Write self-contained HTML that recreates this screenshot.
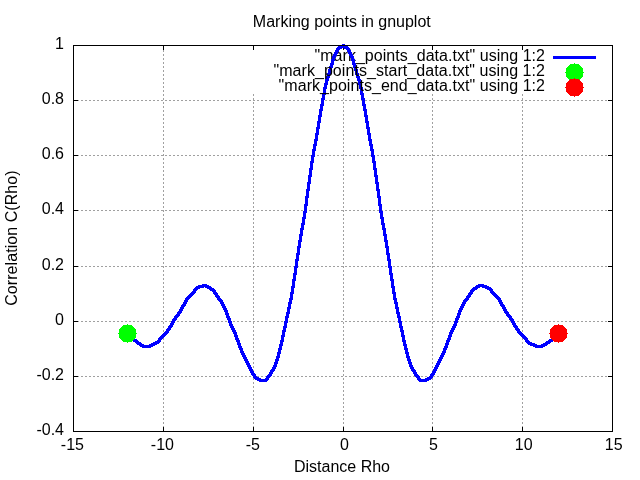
<!DOCTYPE html>
<html><head><meta charset="utf-8"><title>Marking points in gnuplot</title>
<style>html,body{margin:0;padding:0;background:#fff;width:640px;height:480px;overflow:hidden}</style>
</head><body>
<svg width="640" height="480" viewBox="0 0 640 480" style="position:absolute;left:0;top:0;will-change:transform"><rect width="640" height="480" fill="#fff"/><path fill="#a0a0a0" d="M74 100h1v1h-1zM77 100h1v1h-1zM78 100h1v1h-1zM81 100h1v1h-1zM82 100h1v1h-1zM85 100h1v1h-1zM86 100h1v1h-1zM89 100h1v1h-1zM90 100h1v1h-1zM93 100h1v1h-1zM94 100h1v1h-1zM97 100h1v1h-1zM98 100h1v1h-1zM101 100h1v1h-1zM102 100h1v1h-1zM105 100h1v1h-1zM106 100h1v1h-1zM109 100h1v1h-1zM110 100h1v1h-1zM113 100h1v1h-1zM114 100h1v1h-1zM117 100h1v1h-1zM118 100h1v1h-1zM121 100h1v1h-1zM122 100h1v1h-1zM125 100h1v1h-1zM126 100h1v1h-1zM129 100h1v1h-1zM130 100h1v1h-1zM133 100h1v1h-1zM134 100h1v1h-1zM137 100h1v1h-1zM138 100h1v1h-1zM141 100h1v1h-1zM142 100h1v1h-1zM145 100h1v1h-1zM146 100h1v1h-1zM149 100h1v1h-1zM150 100h1v1h-1zM153 100h1v1h-1zM154 100h1v1h-1zM157 100h1v1h-1zM158 100h1v1h-1zM161 100h1v1h-1zM162 100h1v1h-1zM165 100h1v1h-1zM166 100h1v1h-1zM169 100h1v1h-1zM170 100h1v1h-1zM173 100h1v1h-1zM174 100h1v1h-1zM177 100h1v1h-1zM178 100h1v1h-1zM181 100h1v1h-1zM182 100h1v1h-1zM185 100h1v1h-1zM186 100h1v1h-1zM189 100h1v1h-1zM190 100h1v1h-1zM193 100h1v1h-1zM194 100h1v1h-1zM197 100h1v1h-1zM198 100h1v1h-1zM201 100h1v1h-1zM202 100h1v1h-1zM205 100h1v1h-1zM206 100h1v1h-1zM209 100h1v1h-1zM210 100h1v1h-1zM213 100h1v1h-1zM214 100h1v1h-1zM217 100h1v1h-1zM218 100h1v1h-1zM221 100h1v1h-1zM222 100h1v1h-1zM225 100h1v1h-1zM226 100h1v1h-1zM229 100h1v1h-1zM230 100h1v1h-1zM233 100h1v1h-1zM234 100h1v1h-1zM237 100h1v1h-1zM238 100h1v1h-1zM241 100h1v1h-1zM242 100h1v1h-1zM245 100h1v1h-1zM246 100h1v1h-1zM249 100h1v1h-1zM250 100h1v1h-1zM253 100h1v1h-1zM254 100h1v1h-1zM257 100h1v1h-1zM258 100h1v1h-1zM261 100h1v1h-1zM262 100h1v1h-1zM265 100h1v1h-1zM266 100h1v1h-1zM269 100h1v1h-1zM270 100h1v1h-1zM273 100h1v1h-1zM274 100h1v1h-1zM277 100h1v1h-1zM278 100h1v1h-1zM281 100h1v1h-1zM282 100h1v1h-1zM285 100h1v1h-1zM286 100h1v1h-1zM289 100h1v1h-1zM290 100h1v1h-1zM293 100h1v1h-1zM294 100h1v1h-1zM297 100h1v1h-1zM298 100h1v1h-1zM301 100h1v1h-1zM302 100h1v1h-1zM305 100h1v1h-1zM306 100h1v1h-1zM309 100h1v1h-1zM310 100h1v1h-1zM313 100h1v1h-1zM314 100h1v1h-1zM317 100h1v1h-1zM318 100h1v1h-1zM321 100h1v1h-1zM322 100h1v1h-1zM325 100h1v1h-1zM326 100h1v1h-1zM329 100h1v1h-1zM330 100h1v1h-1zM333 100h1v1h-1zM334 100h1v1h-1zM337 100h1v1h-1zM338 100h1v1h-1zM341 100h1v1h-1zM342 100h1v1h-1zM345 100h1v1h-1zM346 100h1v1h-1zM349 100h1v1h-1zM350 100h1v1h-1zM353 100h1v1h-1zM354 100h1v1h-1zM357 100h1v1h-1zM358 100h1v1h-1zM361 100h1v1h-1zM362 100h1v1h-1zM365 100h1v1h-1zM366 100h1v1h-1zM369 100h1v1h-1zM370 100h1v1h-1zM373 100h1v1h-1zM374 100h1v1h-1zM377 100h1v1h-1zM378 100h1v1h-1zM381 100h1v1h-1zM382 100h1v1h-1zM385 100h1v1h-1zM386 100h1v1h-1zM389 100h1v1h-1zM390 100h1v1h-1zM393 100h1v1h-1zM394 100h1v1h-1zM397 100h1v1h-1zM398 100h1v1h-1zM401 100h1v1h-1zM402 100h1v1h-1zM405 100h1v1h-1zM406 100h1v1h-1zM409 100h1v1h-1zM410 100h1v1h-1zM413 100h1v1h-1zM414 100h1v1h-1zM417 100h1v1h-1zM418 100h1v1h-1zM421 100h1v1h-1zM422 100h1v1h-1zM425 100h1v1h-1zM426 100h1v1h-1zM429 100h1v1h-1zM430 100h1v1h-1zM433 100h1v1h-1zM434 100h1v1h-1zM437 100h1v1h-1zM438 100h1v1h-1zM441 100h1v1h-1zM442 100h1v1h-1zM445 100h1v1h-1zM446 100h1v1h-1zM449 100h1v1h-1zM450 100h1v1h-1zM453 100h1v1h-1zM454 100h1v1h-1zM457 100h1v1h-1zM458 100h1v1h-1zM461 100h1v1h-1zM462 100h1v1h-1zM465 100h1v1h-1zM466 100h1v1h-1zM469 100h1v1h-1zM470 100h1v1h-1zM473 100h1v1h-1zM474 100h1v1h-1zM477 100h1v1h-1zM478 100h1v1h-1zM481 100h1v1h-1zM482 100h1v1h-1zM485 100h1v1h-1zM486 100h1v1h-1zM489 100h1v1h-1zM490 100h1v1h-1zM493 100h1v1h-1zM494 100h1v1h-1zM497 100h1v1h-1zM498 100h1v1h-1zM501 100h1v1h-1zM502 100h1v1h-1zM505 100h1v1h-1zM506 100h1v1h-1zM509 100h1v1h-1zM510 100h1v1h-1zM513 100h1v1h-1zM514 100h1v1h-1zM517 100h1v1h-1zM518 100h1v1h-1zM521 100h1v1h-1zM522 100h1v1h-1zM525 100h1v1h-1zM526 100h1v1h-1zM529 100h1v1h-1zM530 100h1v1h-1zM533 100h1v1h-1zM534 100h1v1h-1zM537 100h1v1h-1zM538 100h1v1h-1zM541 100h1v1h-1zM542 100h1v1h-1zM545 100h1v1h-1zM546 100h1v1h-1zM549 100h1v1h-1zM550 100h1v1h-1zM553 100h1v1h-1zM554 100h1v1h-1zM557 100h1v1h-1zM558 100h1v1h-1zM561 100h1v1h-1zM562 100h1v1h-1zM565 100h1v1h-1zM566 100h1v1h-1zM569 100h1v1h-1zM570 100h1v1h-1zM573 100h1v1h-1zM574 100h1v1h-1zM577 100h1v1h-1zM578 100h1v1h-1zM581 100h1v1h-1zM582 100h1v1h-1zM585 100h1v1h-1zM586 100h1v1h-1zM589 100h1v1h-1zM590 100h1v1h-1zM593 100h1v1h-1zM594 100h1v1h-1zM597 100h1v1h-1zM598 100h1v1h-1zM601 100h1v1h-1zM602 100h1v1h-1zM605 100h1v1h-1zM606 100h1v1h-1zM609 100h1v1h-1zM610 100h1v1h-1zM74 155h1v1h-1zM77 155h1v1h-1zM78 155h1v1h-1zM81 155h1v1h-1zM82 155h1v1h-1zM85 155h1v1h-1zM86 155h1v1h-1zM89 155h1v1h-1zM90 155h1v1h-1zM93 155h1v1h-1zM94 155h1v1h-1zM97 155h1v1h-1zM98 155h1v1h-1zM101 155h1v1h-1zM102 155h1v1h-1zM105 155h1v1h-1zM106 155h1v1h-1zM109 155h1v1h-1zM110 155h1v1h-1zM113 155h1v1h-1zM114 155h1v1h-1zM117 155h1v1h-1zM118 155h1v1h-1zM121 155h1v1h-1zM122 155h1v1h-1zM125 155h1v1h-1zM126 155h1v1h-1zM129 155h1v1h-1zM130 155h1v1h-1zM133 155h1v1h-1zM134 155h1v1h-1zM137 155h1v1h-1zM138 155h1v1h-1zM141 155h1v1h-1zM142 155h1v1h-1zM145 155h1v1h-1zM146 155h1v1h-1zM149 155h1v1h-1zM150 155h1v1h-1zM153 155h1v1h-1zM154 155h1v1h-1zM157 155h1v1h-1zM158 155h1v1h-1zM161 155h1v1h-1zM162 155h1v1h-1zM165 155h1v1h-1zM166 155h1v1h-1zM169 155h1v1h-1zM170 155h1v1h-1zM173 155h1v1h-1zM174 155h1v1h-1zM177 155h1v1h-1zM178 155h1v1h-1zM181 155h1v1h-1zM182 155h1v1h-1zM185 155h1v1h-1zM186 155h1v1h-1zM189 155h1v1h-1zM190 155h1v1h-1zM193 155h1v1h-1zM194 155h1v1h-1zM197 155h1v1h-1zM198 155h1v1h-1zM201 155h1v1h-1zM202 155h1v1h-1zM205 155h1v1h-1zM206 155h1v1h-1zM209 155h1v1h-1zM210 155h1v1h-1zM213 155h1v1h-1zM214 155h1v1h-1zM217 155h1v1h-1zM218 155h1v1h-1zM221 155h1v1h-1zM222 155h1v1h-1zM225 155h1v1h-1zM226 155h1v1h-1zM229 155h1v1h-1zM230 155h1v1h-1zM233 155h1v1h-1zM234 155h1v1h-1zM237 155h1v1h-1zM238 155h1v1h-1zM241 155h1v1h-1zM242 155h1v1h-1zM245 155h1v1h-1zM246 155h1v1h-1zM249 155h1v1h-1zM250 155h1v1h-1zM253 155h1v1h-1zM254 155h1v1h-1zM257 155h1v1h-1zM258 155h1v1h-1zM261 155h1v1h-1zM262 155h1v1h-1zM265 155h1v1h-1zM266 155h1v1h-1zM269 155h1v1h-1zM270 155h1v1h-1zM273 155h1v1h-1zM274 155h1v1h-1zM277 155h1v1h-1zM278 155h1v1h-1zM281 155h1v1h-1zM282 155h1v1h-1zM285 155h1v1h-1zM286 155h1v1h-1zM289 155h1v1h-1zM290 155h1v1h-1zM293 155h1v1h-1zM294 155h1v1h-1zM297 155h1v1h-1zM298 155h1v1h-1zM301 155h1v1h-1zM302 155h1v1h-1zM305 155h1v1h-1zM306 155h1v1h-1zM309 155h1v1h-1zM310 155h1v1h-1zM313 155h1v1h-1zM314 155h1v1h-1zM317 155h1v1h-1zM318 155h1v1h-1zM321 155h1v1h-1zM322 155h1v1h-1zM325 155h1v1h-1zM326 155h1v1h-1zM329 155h1v1h-1zM330 155h1v1h-1zM333 155h1v1h-1zM334 155h1v1h-1zM337 155h1v1h-1zM338 155h1v1h-1zM341 155h1v1h-1zM342 155h1v1h-1zM345 155h1v1h-1zM346 155h1v1h-1zM349 155h1v1h-1zM350 155h1v1h-1zM353 155h1v1h-1zM354 155h1v1h-1zM357 155h1v1h-1zM358 155h1v1h-1zM361 155h1v1h-1zM362 155h1v1h-1zM365 155h1v1h-1zM366 155h1v1h-1zM369 155h1v1h-1zM370 155h1v1h-1zM373 155h1v1h-1zM374 155h1v1h-1zM377 155h1v1h-1zM378 155h1v1h-1zM381 155h1v1h-1zM382 155h1v1h-1zM385 155h1v1h-1zM386 155h1v1h-1zM389 155h1v1h-1zM390 155h1v1h-1zM393 155h1v1h-1zM394 155h1v1h-1zM397 155h1v1h-1zM398 155h1v1h-1zM401 155h1v1h-1zM402 155h1v1h-1zM405 155h1v1h-1zM406 155h1v1h-1zM409 155h1v1h-1zM410 155h1v1h-1zM413 155h1v1h-1zM414 155h1v1h-1zM417 155h1v1h-1zM418 155h1v1h-1zM421 155h1v1h-1zM422 155h1v1h-1zM425 155h1v1h-1zM426 155h1v1h-1zM429 155h1v1h-1zM430 155h1v1h-1zM433 155h1v1h-1zM434 155h1v1h-1zM437 155h1v1h-1zM438 155h1v1h-1zM441 155h1v1h-1zM442 155h1v1h-1zM445 155h1v1h-1zM446 155h1v1h-1zM449 155h1v1h-1zM450 155h1v1h-1zM453 155h1v1h-1zM454 155h1v1h-1zM457 155h1v1h-1zM458 155h1v1h-1zM461 155h1v1h-1zM462 155h1v1h-1zM465 155h1v1h-1zM466 155h1v1h-1zM469 155h1v1h-1zM470 155h1v1h-1zM473 155h1v1h-1zM474 155h1v1h-1zM477 155h1v1h-1zM478 155h1v1h-1zM481 155h1v1h-1zM482 155h1v1h-1zM485 155h1v1h-1zM486 155h1v1h-1zM489 155h1v1h-1zM490 155h1v1h-1zM493 155h1v1h-1zM494 155h1v1h-1zM497 155h1v1h-1zM498 155h1v1h-1zM501 155h1v1h-1zM502 155h1v1h-1zM505 155h1v1h-1zM506 155h1v1h-1zM509 155h1v1h-1zM510 155h1v1h-1zM513 155h1v1h-1zM514 155h1v1h-1zM517 155h1v1h-1zM518 155h1v1h-1zM521 155h1v1h-1zM522 155h1v1h-1zM525 155h1v1h-1zM526 155h1v1h-1zM529 155h1v1h-1zM530 155h1v1h-1zM533 155h1v1h-1zM534 155h1v1h-1zM537 155h1v1h-1zM538 155h1v1h-1zM541 155h1v1h-1zM542 155h1v1h-1zM545 155h1v1h-1zM546 155h1v1h-1zM549 155h1v1h-1zM550 155h1v1h-1zM553 155h1v1h-1zM554 155h1v1h-1zM557 155h1v1h-1zM558 155h1v1h-1zM561 155h1v1h-1zM562 155h1v1h-1zM565 155h1v1h-1zM566 155h1v1h-1zM569 155h1v1h-1zM570 155h1v1h-1zM573 155h1v1h-1zM574 155h1v1h-1zM577 155h1v1h-1zM578 155h1v1h-1zM581 155h1v1h-1zM582 155h1v1h-1zM585 155h1v1h-1zM586 155h1v1h-1zM589 155h1v1h-1zM590 155h1v1h-1zM593 155h1v1h-1zM594 155h1v1h-1zM597 155h1v1h-1zM598 155h1v1h-1zM601 155h1v1h-1zM602 155h1v1h-1zM605 155h1v1h-1zM606 155h1v1h-1zM609 155h1v1h-1zM610 155h1v1h-1zM74 210h1v1h-1zM77 210h1v1h-1zM78 210h1v1h-1zM81 210h1v1h-1zM82 210h1v1h-1zM85 210h1v1h-1zM86 210h1v1h-1zM89 210h1v1h-1zM90 210h1v1h-1zM93 210h1v1h-1zM94 210h1v1h-1zM97 210h1v1h-1zM98 210h1v1h-1zM101 210h1v1h-1zM102 210h1v1h-1zM105 210h1v1h-1zM106 210h1v1h-1zM109 210h1v1h-1zM110 210h1v1h-1zM113 210h1v1h-1zM114 210h1v1h-1zM117 210h1v1h-1zM118 210h1v1h-1zM121 210h1v1h-1zM122 210h1v1h-1zM125 210h1v1h-1zM126 210h1v1h-1zM129 210h1v1h-1zM130 210h1v1h-1zM133 210h1v1h-1zM134 210h1v1h-1zM137 210h1v1h-1zM138 210h1v1h-1zM141 210h1v1h-1zM142 210h1v1h-1zM145 210h1v1h-1zM146 210h1v1h-1zM149 210h1v1h-1zM150 210h1v1h-1zM153 210h1v1h-1zM154 210h1v1h-1zM157 210h1v1h-1zM158 210h1v1h-1zM161 210h1v1h-1zM162 210h1v1h-1zM165 210h1v1h-1zM166 210h1v1h-1zM169 210h1v1h-1zM170 210h1v1h-1zM173 210h1v1h-1zM174 210h1v1h-1zM177 210h1v1h-1zM178 210h1v1h-1zM181 210h1v1h-1zM182 210h1v1h-1zM185 210h1v1h-1zM186 210h1v1h-1zM189 210h1v1h-1zM190 210h1v1h-1zM193 210h1v1h-1zM194 210h1v1h-1zM197 210h1v1h-1zM198 210h1v1h-1zM201 210h1v1h-1zM202 210h1v1h-1zM205 210h1v1h-1zM206 210h1v1h-1zM209 210h1v1h-1zM210 210h1v1h-1zM213 210h1v1h-1zM214 210h1v1h-1zM217 210h1v1h-1zM218 210h1v1h-1zM221 210h1v1h-1zM222 210h1v1h-1zM225 210h1v1h-1zM226 210h1v1h-1zM229 210h1v1h-1zM230 210h1v1h-1zM233 210h1v1h-1zM234 210h1v1h-1zM237 210h1v1h-1zM238 210h1v1h-1zM241 210h1v1h-1zM242 210h1v1h-1zM245 210h1v1h-1zM246 210h1v1h-1zM249 210h1v1h-1zM250 210h1v1h-1zM253 210h1v1h-1zM254 210h1v1h-1zM257 210h1v1h-1zM258 210h1v1h-1zM261 210h1v1h-1zM262 210h1v1h-1zM265 210h1v1h-1zM266 210h1v1h-1zM269 210h1v1h-1zM270 210h1v1h-1zM273 210h1v1h-1zM274 210h1v1h-1zM277 210h1v1h-1zM278 210h1v1h-1zM281 210h1v1h-1zM282 210h1v1h-1zM285 210h1v1h-1zM286 210h1v1h-1zM289 210h1v1h-1zM290 210h1v1h-1zM293 210h1v1h-1zM294 210h1v1h-1zM297 210h1v1h-1zM298 210h1v1h-1zM301 210h1v1h-1zM302 210h1v1h-1zM305 210h1v1h-1zM306 210h1v1h-1zM309 210h1v1h-1zM310 210h1v1h-1zM313 210h1v1h-1zM314 210h1v1h-1zM317 210h1v1h-1zM318 210h1v1h-1zM321 210h1v1h-1zM322 210h1v1h-1zM325 210h1v1h-1zM326 210h1v1h-1zM329 210h1v1h-1zM330 210h1v1h-1zM333 210h1v1h-1zM334 210h1v1h-1zM337 210h1v1h-1zM338 210h1v1h-1zM341 210h1v1h-1zM342 210h1v1h-1zM345 210h1v1h-1zM346 210h1v1h-1zM349 210h1v1h-1zM350 210h1v1h-1zM353 210h1v1h-1zM354 210h1v1h-1zM357 210h1v1h-1zM358 210h1v1h-1zM361 210h1v1h-1zM362 210h1v1h-1zM365 210h1v1h-1zM366 210h1v1h-1zM369 210h1v1h-1zM370 210h1v1h-1zM373 210h1v1h-1zM374 210h1v1h-1zM377 210h1v1h-1zM378 210h1v1h-1zM381 210h1v1h-1zM382 210h1v1h-1zM385 210h1v1h-1zM386 210h1v1h-1zM389 210h1v1h-1zM390 210h1v1h-1zM393 210h1v1h-1zM394 210h1v1h-1zM397 210h1v1h-1zM398 210h1v1h-1zM401 210h1v1h-1zM402 210h1v1h-1zM405 210h1v1h-1zM406 210h1v1h-1zM409 210h1v1h-1zM410 210h1v1h-1zM413 210h1v1h-1zM414 210h1v1h-1zM417 210h1v1h-1zM418 210h1v1h-1zM421 210h1v1h-1zM422 210h1v1h-1zM425 210h1v1h-1zM426 210h1v1h-1zM429 210h1v1h-1zM430 210h1v1h-1zM433 210h1v1h-1zM434 210h1v1h-1zM437 210h1v1h-1zM438 210h1v1h-1zM441 210h1v1h-1zM442 210h1v1h-1zM445 210h1v1h-1zM446 210h1v1h-1zM449 210h1v1h-1zM450 210h1v1h-1zM453 210h1v1h-1zM454 210h1v1h-1zM457 210h1v1h-1zM458 210h1v1h-1zM461 210h1v1h-1zM462 210h1v1h-1zM465 210h1v1h-1zM466 210h1v1h-1zM469 210h1v1h-1zM470 210h1v1h-1zM473 210h1v1h-1zM474 210h1v1h-1zM477 210h1v1h-1zM478 210h1v1h-1zM481 210h1v1h-1zM482 210h1v1h-1zM485 210h1v1h-1zM486 210h1v1h-1zM489 210h1v1h-1zM490 210h1v1h-1zM493 210h1v1h-1zM494 210h1v1h-1zM497 210h1v1h-1zM498 210h1v1h-1zM501 210h1v1h-1zM502 210h1v1h-1zM505 210h1v1h-1zM506 210h1v1h-1zM509 210h1v1h-1zM510 210h1v1h-1zM513 210h1v1h-1zM514 210h1v1h-1zM517 210h1v1h-1zM518 210h1v1h-1zM521 210h1v1h-1zM522 210h1v1h-1zM525 210h1v1h-1zM526 210h1v1h-1zM529 210h1v1h-1zM530 210h1v1h-1zM533 210h1v1h-1zM534 210h1v1h-1zM537 210h1v1h-1zM538 210h1v1h-1zM541 210h1v1h-1zM542 210h1v1h-1zM545 210h1v1h-1zM546 210h1v1h-1zM549 210h1v1h-1zM550 210h1v1h-1zM553 210h1v1h-1zM554 210h1v1h-1zM557 210h1v1h-1zM558 210h1v1h-1zM561 210h1v1h-1zM562 210h1v1h-1zM565 210h1v1h-1zM566 210h1v1h-1zM569 210h1v1h-1zM570 210h1v1h-1zM573 210h1v1h-1zM574 210h1v1h-1zM577 210h1v1h-1zM578 210h1v1h-1zM581 210h1v1h-1zM582 210h1v1h-1zM585 210h1v1h-1zM586 210h1v1h-1zM589 210h1v1h-1zM590 210h1v1h-1zM593 210h1v1h-1zM594 210h1v1h-1zM597 210h1v1h-1zM598 210h1v1h-1zM601 210h1v1h-1zM602 210h1v1h-1zM605 210h1v1h-1zM606 210h1v1h-1zM609 210h1v1h-1zM610 210h1v1h-1zM74 266h1v1h-1zM77 266h1v1h-1zM78 266h1v1h-1zM81 266h1v1h-1zM82 266h1v1h-1zM85 266h1v1h-1zM86 266h1v1h-1zM89 266h1v1h-1zM90 266h1v1h-1zM93 266h1v1h-1zM94 266h1v1h-1zM97 266h1v1h-1zM98 266h1v1h-1zM101 266h1v1h-1zM102 266h1v1h-1zM105 266h1v1h-1zM106 266h1v1h-1zM109 266h1v1h-1zM110 266h1v1h-1zM113 266h1v1h-1zM114 266h1v1h-1zM117 266h1v1h-1zM118 266h1v1h-1zM121 266h1v1h-1zM122 266h1v1h-1zM125 266h1v1h-1zM126 266h1v1h-1zM129 266h1v1h-1zM130 266h1v1h-1zM133 266h1v1h-1zM134 266h1v1h-1zM137 266h1v1h-1zM138 266h1v1h-1zM141 266h1v1h-1zM142 266h1v1h-1zM145 266h1v1h-1zM146 266h1v1h-1zM149 266h1v1h-1zM150 266h1v1h-1zM153 266h1v1h-1zM154 266h1v1h-1zM157 266h1v1h-1zM158 266h1v1h-1zM161 266h1v1h-1zM162 266h1v1h-1zM165 266h1v1h-1zM166 266h1v1h-1zM169 266h1v1h-1zM170 266h1v1h-1zM173 266h1v1h-1zM174 266h1v1h-1zM177 266h1v1h-1zM178 266h1v1h-1zM181 266h1v1h-1zM182 266h1v1h-1zM185 266h1v1h-1zM186 266h1v1h-1zM189 266h1v1h-1zM190 266h1v1h-1zM193 266h1v1h-1zM194 266h1v1h-1zM197 266h1v1h-1zM198 266h1v1h-1zM201 266h1v1h-1zM202 266h1v1h-1zM205 266h1v1h-1zM206 266h1v1h-1zM209 266h1v1h-1zM210 266h1v1h-1zM213 266h1v1h-1zM214 266h1v1h-1zM217 266h1v1h-1zM218 266h1v1h-1zM221 266h1v1h-1zM222 266h1v1h-1zM225 266h1v1h-1zM226 266h1v1h-1zM229 266h1v1h-1zM230 266h1v1h-1zM233 266h1v1h-1zM234 266h1v1h-1zM237 266h1v1h-1zM238 266h1v1h-1zM241 266h1v1h-1zM242 266h1v1h-1zM245 266h1v1h-1zM246 266h1v1h-1zM249 266h1v1h-1zM250 266h1v1h-1zM253 266h1v1h-1zM254 266h1v1h-1zM257 266h1v1h-1zM258 266h1v1h-1zM261 266h1v1h-1zM262 266h1v1h-1zM265 266h1v1h-1zM266 266h1v1h-1zM269 266h1v1h-1zM270 266h1v1h-1zM273 266h1v1h-1zM274 266h1v1h-1zM277 266h1v1h-1zM278 266h1v1h-1zM281 266h1v1h-1zM282 266h1v1h-1zM285 266h1v1h-1zM286 266h1v1h-1zM289 266h1v1h-1zM290 266h1v1h-1zM293 266h1v1h-1zM294 266h1v1h-1zM297 266h1v1h-1zM298 266h1v1h-1zM301 266h1v1h-1zM302 266h1v1h-1zM305 266h1v1h-1zM306 266h1v1h-1zM309 266h1v1h-1zM310 266h1v1h-1zM313 266h1v1h-1zM314 266h1v1h-1zM317 266h1v1h-1zM318 266h1v1h-1zM321 266h1v1h-1zM322 266h1v1h-1zM325 266h1v1h-1zM326 266h1v1h-1zM329 266h1v1h-1zM330 266h1v1h-1zM333 266h1v1h-1zM334 266h1v1h-1zM337 266h1v1h-1zM338 266h1v1h-1zM341 266h1v1h-1zM342 266h1v1h-1zM345 266h1v1h-1zM346 266h1v1h-1zM349 266h1v1h-1zM350 266h1v1h-1zM353 266h1v1h-1zM354 266h1v1h-1zM357 266h1v1h-1zM358 266h1v1h-1zM361 266h1v1h-1zM362 266h1v1h-1zM365 266h1v1h-1zM366 266h1v1h-1zM369 266h1v1h-1zM370 266h1v1h-1zM373 266h1v1h-1zM374 266h1v1h-1zM377 266h1v1h-1zM378 266h1v1h-1zM381 266h1v1h-1zM382 266h1v1h-1zM385 266h1v1h-1zM386 266h1v1h-1zM389 266h1v1h-1zM390 266h1v1h-1zM393 266h1v1h-1zM394 266h1v1h-1zM397 266h1v1h-1zM398 266h1v1h-1zM401 266h1v1h-1zM402 266h1v1h-1zM405 266h1v1h-1zM406 266h1v1h-1zM409 266h1v1h-1zM410 266h1v1h-1zM413 266h1v1h-1zM414 266h1v1h-1zM417 266h1v1h-1zM418 266h1v1h-1zM421 266h1v1h-1zM422 266h1v1h-1zM425 266h1v1h-1zM426 266h1v1h-1zM429 266h1v1h-1zM430 266h1v1h-1zM433 266h1v1h-1zM434 266h1v1h-1zM437 266h1v1h-1zM438 266h1v1h-1zM441 266h1v1h-1zM442 266h1v1h-1zM445 266h1v1h-1zM446 266h1v1h-1zM449 266h1v1h-1zM450 266h1v1h-1zM453 266h1v1h-1zM454 266h1v1h-1zM457 266h1v1h-1zM458 266h1v1h-1zM461 266h1v1h-1zM462 266h1v1h-1zM465 266h1v1h-1zM466 266h1v1h-1zM469 266h1v1h-1zM470 266h1v1h-1zM473 266h1v1h-1zM474 266h1v1h-1zM477 266h1v1h-1zM478 266h1v1h-1zM481 266h1v1h-1zM482 266h1v1h-1zM485 266h1v1h-1zM486 266h1v1h-1zM489 266h1v1h-1zM490 266h1v1h-1zM493 266h1v1h-1zM494 266h1v1h-1zM497 266h1v1h-1zM498 266h1v1h-1zM501 266h1v1h-1zM502 266h1v1h-1zM505 266h1v1h-1zM506 266h1v1h-1zM509 266h1v1h-1zM510 266h1v1h-1zM513 266h1v1h-1zM514 266h1v1h-1zM517 266h1v1h-1zM518 266h1v1h-1zM521 266h1v1h-1zM522 266h1v1h-1zM525 266h1v1h-1zM526 266h1v1h-1zM529 266h1v1h-1zM530 266h1v1h-1zM533 266h1v1h-1zM534 266h1v1h-1zM537 266h1v1h-1zM538 266h1v1h-1zM541 266h1v1h-1zM542 266h1v1h-1zM545 266h1v1h-1zM546 266h1v1h-1zM549 266h1v1h-1zM550 266h1v1h-1zM553 266h1v1h-1zM554 266h1v1h-1zM557 266h1v1h-1zM558 266h1v1h-1zM561 266h1v1h-1zM562 266h1v1h-1zM565 266h1v1h-1zM566 266h1v1h-1zM569 266h1v1h-1zM570 266h1v1h-1zM573 266h1v1h-1zM574 266h1v1h-1zM577 266h1v1h-1zM578 266h1v1h-1zM581 266h1v1h-1zM582 266h1v1h-1zM585 266h1v1h-1zM586 266h1v1h-1zM589 266h1v1h-1zM590 266h1v1h-1zM593 266h1v1h-1zM594 266h1v1h-1zM597 266h1v1h-1zM598 266h1v1h-1zM601 266h1v1h-1zM602 266h1v1h-1zM605 266h1v1h-1zM606 266h1v1h-1zM609 266h1v1h-1zM610 266h1v1h-1zM74 321h1v1h-1zM77 321h1v1h-1zM78 321h1v1h-1zM81 321h1v1h-1zM82 321h1v1h-1zM85 321h1v1h-1zM86 321h1v1h-1zM89 321h1v1h-1zM90 321h1v1h-1zM93 321h1v1h-1zM94 321h1v1h-1zM97 321h1v1h-1zM98 321h1v1h-1zM101 321h1v1h-1zM102 321h1v1h-1zM105 321h1v1h-1zM106 321h1v1h-1zM109 321h1v1h-1zM110 321h1v1h-1zM113 321h1v1h-1zM114 321h1v1h-1zM117 321h1v1h-1zM118 321h1v1h-1zM121 321h1v1h-1zM122 321h1v1h-1zM125 321h1v1h-1zM126 321h1v1h-1zM129 321h1v1h-1zM130 321h1v1h-1zM133 321h1v1h-1zM134 321h1v1h-1zM137 321h1v1h-1zM138 321h1v1h-1zM141 321h1v1h-1zM142 321h1v1h-1zM145 321h1v1h-1zM146 321h1v1h-1zM149 321h1v1h-1zM150 321h1v1h-1zM153 321h1v1h-1zM154 321h1v1h-1zM157 321h1v1h-1zM158 321h1v1h-1zM161 321h1v1h-1zM162 321h1v1h-1zM165 321h1v1h-1zM166 321h1v1h-1zM169 321h1v1h-1zM170 321h1v1h-1zM173 321h1v1h-1zM174 321h1v1h-1zM177 321h1v1h-1zM178 321h1v1h-1zM181 321h1v1h-1zM182 321h1v1h-1zM185 321h1v1h-1zM186 321h1v1h-1zM189 321h1v1h-1zM190 321h1v1h-1zM193 321h1v1h-1zM194 321h1v1h-1zM197 321h1v1h-1zM198 321h1v1h-1zM201 321h1v1h-1zM202 321h1v1h-1zM205 321h1v1h-1zM206 321h1v1h-1zM209 321h1v1h-1zM210 321h1v1h-1zM213 321h1v1h-1zM214 321h1v1h-1zM217 321h1v1h-1zM218 321h1v1h-1zM221 321h1v1h-1zM222 321h1v1h-1zM225 321h1v1h-1zM226 321h1v1h-1zM229 321h1v1h-1zM230 321h1v1h-1zM233 321h1v1h-1zM234 321h1v1h-1zM237 321h1v1h-1zM238 321h1v1h-1zM241 321h1v1h-1zM242 321h1v1h-1zM245 321h1v1h-1zM246 321h1v1h-1zM249 321h1v1h-1zM250 321h1v1h-1zM253 321h1v1h-1zM254 321h1v1h-1zM257 321h1v1h-1zM258 321h1v1h-1zM261 321h1v1h-1zM262 321h1v1h-1zM265 321h1v1h-1zM266 321h1v1h-1zM269 321h1v1h-1zM270 321h1v1h-1zM273 321h1v1h-1zM274 321h1v1h-1zM277 321h1v1h-1zM278 321h1v1h-1zM281 321h1v1h-1zM282 321h1v1h-1zM285 321h1v1h-1zM286 321h1v1h-1zM289 321h1v1h-1zM290 321h1v1h-1zM293 321h1v1h-1zM294 321h1v1h-1zM297 321h1v1h-1zM298 321h1v1h-1zM301 321h1v1h-1zM302 321h1v1h-1zM305 321h1v1h-1zM306 321h1v1h-1zM309 321h1v1h-1zM310 321h1v1h-1zM313 321h1v1h-1zM314 321h1v1h-1zM317 321h1v1h-1zM318 321h1v1h-1zM321 321h1v1h-1zM322 321h1v1h-1zM325 321h1v1h-1zM326 321h1v1h-1zM329 321h1v1h-1zM330 321h1v1h-1zM333 321h1v1h-1zM334 321h1v1h-1zM337 321h1v1h-1zM338 321h1v1h-1zM341 321h1v1h-1zM342 321h1v1h-1zM345 321h1v1h-1zM346 321h1v1h-1zM349 321h1v1h-1zM350 321h1v1h-1zM353 321h1v1h-1zM354 321h1v1h-1zM357 321h1v1h-1zM358 321h1v1h-1zM361 321h1v1h-1zM362 321h1v1h-1zM365 321h1v1h-1zM366 321h1v1h-1zM369 321h1v1h-1zM370 321h1v1h-1zM373 321h1v1h-1zM374 321h1v1h-1zM377 321h1v1h-1zM378 321h1v1h-1zM381 321h1v1h-1zM382 321h1v1h-1zM385 321h1v1h-1zM386 321h1v1h-1zM389 321h1v1h-1zM390 321h1v1h-1zM393 321h1v1h-1zM394 321h1v1h-1zM397 321h1v1h-1zM398 321h1v1h-1zM401 321h1v1h-1zM402 321h1v1h-1zM405 321h1v1h-1zM406 321h1v1h-1zM409 321h1v1h-1zM410 321h1v1h-1zM413 321h1v1h-1zM414 321h1v1h-1zM417 321h1v1h-1zM418 321h1v1h-1zM421 321h1v1h-1zM422 321h1v1h-1zM425 321h1v1h-1zM426 321h1v1h-1zM429 321h1v1h-1zM430 321h1v1h-1zM433 321h1v1h-1zM434 321h1v1h-1zM437 321h1v1h-1zM438 321h1v1h-1zM441 321h1v1h-1zM442 321h1v1h-1zM445 321h1v1h-1zM446 321h1v1h-1zM449 321h1v1h-1zM450 321h1v1h-1zM453 321h1v1h-1zM454 321h1v1h-1zM457 321h1v1h-1zM458 321h1v1h-1zM461 321h1v1h-1zM462 321h1v1h-1zM465 321h1v1h-1zM466 321h1v1h-1zM469 321h1v1h-1zM470 321h1v1h-1zM473 321h1v1h-1zM474 321h1v1h-1zM477 321h1v1h-1zM478 321h1v1h-1zM481 321h1v1h-1zM482 321h1v1h-1zM485 321h1v1h-1zM486 321h1v1h-1zM489 321h1v1h-1zM490 321h1v1h-1zM493 321h1v1h-1zM494 321h1v1h-1zM497 321h1v1h-1zM498 321h1v1h-1zM501 321h1v1h-1zM502 321h1v1h-1zM505 321h1v1h-1zM506 321h1v1h-1zM509 321h1v1h-1zM510 321h1v1h-1zM513 321h1v1h-1zM514 321h1v1h-1zM517 321h1v1h-1zM518 321h1v1h-1zM521 321h1v1h-1zM522 321h1v1h-1zM525 321h1v1h-1zM526 321h1v1h-1zM529 321h1v1h-1zM530 321h1v1h-1zM533 321h1v1h-1zM534 321h1v1h-1zM537 321h1v1h-1zM538 321h1v1h-1zM541 321h1v1h-1zM542 321h1v1h-1zM545 321h1v1h-1zM546 321h1v1h-1zM549 321h1v1h-1zM550 321h1v1h-1zM553 321h1v1h-1zM554 321h1v1h-1zM557 321h1v1h-1zM558 321h1v1h-1zM561 321h1v1h-1zM562 321h1v1h-1zM565 321h1v1h-1zM566 321h1v1h-1zM569 321h1v1h-1zM570 321h1v1h-1zM573 321h1v1h-1zM574 321h1v1h-1zM577 321h1v1h-1zM578 321h1v1h-1zM581 321h1v1h-1zM582 321h1v1h-1zM585 321h1v1h-1zM586 321h1v1h-1zM589 321h1v1h-1zM590 321h1v1h-1zM593 321h1v1h-1zM594 321h1v1h-1zM597 321h1v1h-1zM598 321h1v1h-1zM601 321h1v1h-1zM602 321h1v1h-1zM605 321h1v1h-1zM606 321h1v1h-1zM609 321h1v1h-1zM610 321h1v1h-1zM74 376h1v1h-1zM77 376h1v1h-1zM78 376h1v1h-1zM81 376h1v1h-1zM82 376h1v1h-1zM85 376h1v1h-1zM86 376h1v1h-1zM89 376h1v1h-1zM90 376h1v1h-1zM93 376h1v1h-1zM94 376h1v1h-1zM97 376h1v1h-1zM98 376h1v1h-1zM101 376h1v1h-1zM102 376h1v1h-1zM105 376h1v1h-1zM106 376h1v1h-1zM109 376h1v1h-1zM110 376h1v1h-1zM113 376h1v1h-1zM114 376h1v1h-1zM117 376h1v1h-1zM118 376h1v1h-1zM121 376h1v1h-1zM122 376h1v1h-1zM125 376h1v1h-1zM126 376h1v1h-1zM129 376h1v1h-1zM130 376h1v1h-1zM133 376h1v1h-1zM134 376h1v1h-1zM137 376h1v1h-1zM138 376h1v1h-1zM141 376h1v1h-1zM142 376h1v1h-1zM145 376h1v1h-1zM146 376h1v1h-1zM149 376h1v1h-1zM150 376h1v1h-1zM153 376h1v1h-1zM154 376h1v1h-1zM157 376h1v1h-1zM158 376h1v1h-1zM161 376h1v1h-1zM162 376h1v1h-1zM165 376h1v1h-1zM166 376h1v1h-1zM169 376h1v1h-1zM170 376h1v1h-1zM173 376h1v1h-1zM174 376h1v1h-1zM177 376h1v1h-1zM178 376h1v1h-1zM181 376h1v1h-1zM182 376h1v1h-1zM185 376h1v1h-1zM186 376h1v1h-1zM189 376h1v1h-1zM190 376h1v1h-1zM193 376h1v1h-1zM194 376h1v1h-1zM197 376h1v1h-1zM198 376h1v1h-1zM201 376h1v1h-1zM202 376h1v1h-1zM205 376h1v1h-1zM206 376h1v1h-1zM209 376h1v1h-1zM210 376h1v1h-1zM213 376h1v1h-1zM214 376h1v1h-1zM217 376h1v1h-1zM218 376h1v1h-1zM221 376h1v1h-1zM222 376h1v1h-1zM225 376h1v1h-1zM226 376h1v1h-1zM229 376h1v1h-1zM230 376h1v1h-1zM233 376h1v1h-1zM234 376h1v1h-1zM237 376h1v1h-1zM238 376h1v1h-1zM241 376h1v1h-1zM242 376h1v1h-1zM245 376h1v1h-1zM246 376h1v1h-1zM249 376h1v1h-1zM250 376h1v1h-1zM253 376h1v1h-1zM254 376h1v1h-1zM257 376h1v1h-1zM258 376h1v1h-1zM261 376h1v1h-1zM262 376h1v1h-1zM265 376h1v1h-1zM266 376h1v1h-1zM269 376h1v1h-1zM270 376h1v1h-1zM273 376h1v1h-1zM274 376h1v1h-1zM277 376h1v1h-1zM278 376h1v1h-1zM281 376h1v1h-1zM282 376h1v1h-1zM285 376h1v1h-1zM286 376h1v1h-1zM289 376h1v1h-1zM290 376h1v1h-1zM293 376h1v1h-1zM294 376h1v1h-1zM297 376h1v1h-1zM298 376h1v1h-1zM301 376h1v1h-1zM302 376h1v1h-1zM305 376h1v1h-1zM306 376h1v1h-1zM309 376h1v1h-1zM310 376h1v1h-1zM313 376h1v1h-1zM314 376h1v1h-1zM317 376h1v1h-1zM318 376h1v1h-1zM321 376h1v1h-1zM322 376h1v1h-1zM325 376h1v1h-1zM326 376h1v1h-1zM329 376h1v1h-1zM330 376h1v1h-1zM333 376h1v1h-1zM334 376h1v1h-1zM337 376h1v1h-1zM338 376h1v1h-1zM341 376h1v1h-1zM342 376h1v1h-1zM345 376h1v1h-1zM346 376h1v1h-1zM349 376h1v1h-1zM350 376h1v1h-1zM353 376h1v1h-1zM354 376h1v1h-1zM357 376h1v1h-1zM358 376h1v1h-1zM361 376h1v1h-1zM362 376h1v1h-1zM365 376h1v1h-1zM366 376h1v1h-1zM369 376h1v1h-1zM370 376h1v1h-1zM373 376h1v1h-1zM374 376h1v1h-1zM377 376h1v1h-1zM378 376h1v1h-1zM381 376h1v1h-1zM382 376h1v1h-1zM385 376h1v1h-1zM386 376h1v1h-1zM389 376h1v1h-1zM390 376h1v1h-1zM393 376h1v1h-1zM394 376h1v1h-1zM397 376h1v1h-1zM398 376h1v1h-1zM401 376h1v1h-1zM402 376h1v1h-1zM405 376h1v1h-1zM406 376h1v1h-1zM409 376h1v1h-1zM410 376h1v1h-1zM413 376h1v1h-1zM414 376h1v1h-1zM417 376h1v1h-1zM418 376h1v1h-1zM421 376h1v1h-1zM422 376h1v1h-1zM425 376h1v1h-1zM426 376h1v1h-1zM429 376h1v1h-1zM430 376h1v1h-1zM433 376h1v1h-1zM434 376h1v1h-1zM437 376h1v1h-1zM438 376h1v1h-1zM441 376h1v1h-1zM442 376h1v1h-1zM445 376h1v1h-1zM446 376h1v1h-1zM449 376h1v1h-1zM450 376h1v1h-1zM453 376h1v1h-1zM454 376h1v1h-1zM457 376h1v1h-1zM458 376h1v1h-1zM461 376h1v1h-1zM462 376h1v1h-1zM465 376h1v1h-1zM466 376h1v1h-1zM469 376h1v1h-1zM470 376h1v1h-1zM473 376h1v1h-1zM474 376h1v1h-1zM477 376h1v1h-1zM478 376h1v1h-1zM481 376h1v1h-1zM482 376h1v1h-1zM485 376h1v1h-1zM486 376h1v1h-1zM489 376h1v1h-1zM490 376h1v1h-1zM493 376h1v1h-1zM494 376h1v1h-1zM497 376h1v1h-1zM498 376h1v1h-1zM501 376h1v1h-1zM502 376h1v1h-1zM505 376h1v1h-1zM506 376h1v1h-1zM509 376h1v1h-1zM510 376h1v1h-1zM513 376h1v1h-1zM514 376h1v1h-1zM517 376h1v1h-1zM518 376h1v1h-1zM521 376h1v1h-1zM522 376h1v1h-1zM525 376h1v1h-1zM526 376h1v1h-1zM529 376h1v1h-1zM530 376h1v1h-1zM533 376h1v1h-1zM534 376h1v1h-1zM537 376h1v1h-1zM538 376h1v1h-1zM541 376h1v1h-1zM542 376h1v1h-1zM545 376h1v1h-1zM546 376h1v1h-1zM549 376h1v1h-1zM550 376h1v1h-1zM553 376h1v1h-1zM554 376h1v1h-1zM557 376h1v1h-1zM558 376h1v1h-1zM561 376h1v1h-1zM562 376h1v1h-1zM565 376h1v1h-1zM566 376h1v1h-1zM569 376h1v1h-1zM570 376h1v1h-1zM573 376h1v1h-1zM574 376h1v1h-1zM577 376h1v1h-1zM578 376h1v1h-1zM581 376h1v1h-1zM582 376h1v1h-1zM585 376h1v1h-1zM586 376h1v1h-1zM589 376h1v1h-1zM590 376h1v1h-1zM593 376h1v1h-1zM594 376h1v1h-1zM597 376h1v1h-1zM598 376h1v1h-1zM601 376h1v1h-1zM602 376h1v1h-1zM605 376h1v1h-1zM606 376h1v1h-1zM609 376h1v1h-1zM610 376h1v1h-1zM163 46h1v1h-1zM163 47h1v1h-1zM163 50h1v1h-1zM163 51h1v1h-1zM163 54h1v1h-1zM163 55h1v1h-1zM163 58h1v1h-1zM163 59h1v1h-1zM163 62h1v1h-1zM163 63h1v1h-1zM163 66h1v1h-1zM163 67h1v1h-1zM163 70h1v1h-1zM163 71h1v1h-1zM163 74h1v1h-1zM163 75h1v1h-1zM163 78h1v1h-1zM163 79h1v1h-1zM163 82h1v1h-1zM163 83h1v1h-1zM163 86h1v1h-1zM163 87h1v1h-1zM163 90h1v1h-1zM163 91h1v1h-1zM163 94h1v1h-1zM163 95h1v1h-1zM163 98h1v1h-1zM163 99h1v1h-1zM163 102h1v1h-1zM163 103h1v1h-1zM163 106h1v1h-1zM163 107h1v1h-1zM163 110h1v1h-1zM163 111h1v1h-1zM163 114h1v1h-1zM163 115h1v1h-1zM163 118h1v1h-1zM163 119h1v1h-1zM163 122h1v1h-1zM163 123h1v1h-1zM163 126h1v1h-1zM163 127h1v1h-1zM163 130h1v1h-1zM163 131h1v1h-1zM163 134h1v1h-1zM163 135h1v1h-1zM163 138h1v1h-1zM163 139h1v1h-1zM163 142h1v1h-1zM163 143h1v1h-1zM163 146h1v1h-1zM163 147h1v1h-1zM163 150h1v1h-1zM163 151h1v1h-1zM163 154h1v1h-1zM163 155h1v1h-1zM163 158h1v1h-1zM163 159h1v1h-1zM163 162h1v1h-1zM163 163h1v1h-1zM163 166h1v1h-1zM163 167h1v1h-1zM163 170h1v1h-1zM163 171h1v1h-1zM163 174h1v1h-1zM163 175h1v1h-1zM163 178h1v1h-1zM163 179h1v1h-1zM163 182h1v1h-1zM163 183h1v1h-1zM163 186h1v1h-1zM163 187h1v1h-1zM163 190h1v1h-1zM163 191h1v1h-1zM163 194h1v1h-1zM163 195h1v1h-1zM163 198h1v1h-1zM163 199h1v1h-1zM163 202h1v1h-1zM163 203h1v1h-1zM163 206h1v1h-1zM163 207h1v1h-1zM163 210h1v1h-1zM163 211h1v1h-1zM163 214h1v1h-1zM163 215h1v1h-1zM163 218h1v1h-1zM163 219h1v1h-1zM163 222h1v1h-1zM163 223h1v1h-1zM163 226h1v1h-1zM163 227h1v1h-1zM163 230h1v1h-1zM163 231h1v1h-1zM163 234h1v1h-1zM163 235h1v1h-1zM163 238h1v1h-1zM163 239h1v1h-1zM163 242h1v1h-1zM163 243h1v1h-1zM163 246h1v1h-1zM163 247h1v1h-1zM163 250h1v1h-1zM163 251h1v1h-1zM163 254h1v1h-1zM163 255h1v1h-1zM163 258h1v1h-1zM163 259h1v1h-1zM163 262h1v1h-1zM163 263h1v1h-1zM163 266h1v1h-1zM163 267h1v1h-1zM163 270h1v1h-1zM163 271h1v1h-1zM163 274h1v1h-1zM163 275h1v1h-1zM163 278h1v1h-1zM163 279h1v1h-1zM163 282h1v1h-1zM163 283h1v1h-1zM163 286h1v1h-1zM163 287h1v1h-1zM163 290h1v1h-1zM163 291h1v1h-1zM163 294h1v1h-1zM163 295h1v1h-1zM163 298h1v1h-1zM163 299h1v1h-1zM163 302h1v1h-1zM163 303h1v1h-1zM163 306h1v1h-1zM163 307h1v1h-1zM163 310h1v1h-1zM163 311h1v1h-1zM163 314h1v1h-1zM163 315h1v1h-1zM163 318h1v1h-1zM163 319h1v1h-1zM163 322h1v1h-1zM163 323h1v1h-1zM163 326h1v1h-1zM163 327h1v1h-1zM163 330h1v1h-1zM163 331h1v1h-1zM163 334h1v1h-1zM163 335h1v1h-1zM163 338h1v1h-1zM163 339h1v1h-1zM163 342h1v1h-1zM163 343h1v1h-1zM163 346h1v1h-1zM163 347h1v1h-1zM163 350h1v1h-1zM163 351h1v1h-1zM163 354h1v1h-1zM163 355h1v1h-1zM163 358h1v1h-1zM163 359h1v1h-1zM163 362h1v1h-1zM163 363h1v1h-1zM163 366h1v1h-1zM163 367h1v1h-1zM163 370h1v1h-1zM163 371h1v1h-1zM163 374h1v1h-1zM163 375h1v1h-1zM163 378h1v1h-1zM163 379h1v1h-1zM163 382h1v1h-1zM163 383h1v1h-1zM163 386h1v1h-1zM163 387h1v1h-1zM163 390h1v1h-1zM163 391h1v1h-1zM163 394h1v1h-1zM163 395h1v1h-1zM163 398h1v1h-1zM163 399h1v1h-1zM163 402h1v1h-1zM163 403h1v1h-1zM163 406h1v1h-1zM163 407h1v1h-1zM163 410h1v1h-1zM163 411h1v1h-1zM163 414h1v1h-1zM163 415h1v1h-1zM163 418h1v1h-1zM163 419h1v1h-1zM163 422h1v1h-1zM163 423h1v1h-1zM163 426h1v1h-1zM163 427h1v1h-1zM163 430h1v1h-1zM253 94h1v1h-1zM253 95h1v1h-1zM253 98h1v1h-1zM253 99h1v1h-1zM253 102h1v1h-1zM253 103h1v1h-1zM253 106h1v1h-1zM253 107h1v1h-1zM253 110h1v1h-1zM253 111h1v1h-1zM253 114h1v1h-1zM253 115h1v1h-1zM253 118h1v1h-1zM253 119h1v1h-1zM253 122h1v1h-1zM253 123h1v1h-1zM253 126h1v1h-1zM253 127h1v1h-1zM253 130h1v1h-1zM253 131h1v1h-1zM253 134h1v1h-1zM253 135h1v1h-1zM253 138h1v1h-1zM253 139h1v1h-1zM253 142h1v1h-1zM253 143h1v1h-1zM253 146h1v1h-1zM253 147h1v1h-1zM253 150h1v1h-1zM253 151h1v1h-1zM253 154h1v1h-1zM253 155h1v1h-1zM253 158h1v1h-1zM253 159h1v1h-1zM253 162h1v1h-1zM253 163h1v1h-1zM253 166h1v1h-1zM253 167h1v1h-1zM253 170h1v1h-1zM253 171h1v1h-1zM253 174h1v1h-1zM253 175h1v1h-1zM253 178h1v1h-1zM253 179h1v1h-1zM253 182h1v1h-1zM253 183h1v1h-1zM253 186h1v1h-1zM253 187h1v1h-1zM253 190h1v1h-1zM253 191h1v1h-1zM253 194h1v1h-1zM253 195h1v1h-1zM253 198h1v1h-1zM253 199h1v1h-1zM253 202h1v1h-1zM253 203h1v1h-1zM253 206h1v1h-1zM253 207h1v1h-1zM253 210h1v1h-1zM253 211h1v1h-1zM253 214h1v1h-1zM253 215h1v1h-1zM253 218h1v1h-1zM253 219h1v1h-1zM253 222h1v1h-1zM253 223h1v1h-1zM253 226h1v1h-1zM253 227h1v1h-1zM253 230h1v1h-1zM253 231h1v1h-1zM253 234h1v1h-1zM253 235h1v1h-1zM253 238h1v1h-1zM253 239h1v1h-1zM253 242h1v1h-1zM253 243h1v1h-1zM253 246h1v1h-1zM253 247h1v1h-1zM253 250h1v1h-1zM253 251h1v1h-1zM253 254h1v1h-1zM253 255h1v1h-1zM253 258h1v1h-1zM253 259h1v1h-1zM253 262h1v1h-1zM253 263h1v1h-1zM253 266h1v1h-1zM253 267h1v1h-1zM253 270h1v1h-1zM253 271h1v1h-1zM253 274h1v1h-1zM253 275h1v1h-1zM253 278h1v1h-1zM253 279h1v1h-1zM253 282h1v1h-1zM253 283h1v1h-1zM253 286h1v1h-1zM253 287h1v1h-1zM253 290h1v1h-1zM253 291h1v1h-1zM253 294h1v1h-1zM253 295h1v1h-1zM253 298h1v1h-1zM253 299h1v1h-1zM253 302h1v1h-1zM253 303h1v1h-1zM253 306h1v1h-1zM253 307h1v1h-1zM253 310h1v1h-1zM253 311h1v1h-1zM253 314h1v1h-1zM253 315h1v1h-1zM253 318h1v1h-1zM253 319h1v1h-1zM253 322h1v1h-1zM253 323h1v1h-1zM253 326h1v1h-1zM253 327h1v1h-1zM253 330h1v1h-1zM253 331h1v1h-1zM253 334h1v1h-1zM253 335h1v1h-1zM253 338h1v1h-1zM253 339h1v1h-1zM253 342h1v1h-1zM253 343h1v1h-1zM253 346h1v1h-1zM253 347h1v1h-1zM253 350h1v1h-1zM253 351h1v1h-1zM253 354h1v1h-1zM253 355h1v1h-1zM253 358h1v1h-1zM253 359h1v1h-1zM253 362h1v1h-1zM253 363h1v1h-1zM253 366h1v1h-1zM253 367h1v1h-1zM253 370h1v1h-1zM253 371h1v1h-1zM253 374h1v1h-1zM253 375h1v1h-1zM253 378h1v1h-1zM253 379h1v1h-1zM253 382h1v1h-1zM253 383h1v1h-1zM253 386h1v1h-1zM253 387h1v1h-1zM253 390h1v1h-1zM253 391h1v1h-1zM253 394h1v1h-1zM253 395h1v1h-1zM253 398h1v1h-1zM253 399h1v1h-1zM253 402h1v1h-1zM253 403h1v1h-1zM253 406h1v1h-1zM253 407h1v1h-1zM253 410h1v1h-1zM253 411h1v1h-1zM253 414h1v1h-1zM253 415h1v1h-1zM253 418h1v1h-1zM253 419h1v1h-1zM253 422h1v1h-1zM253 423h1v1h-1zM253 426h1v1h-1zM253 427h1v1h-1zM253 430h1v1h-1zM343 94h1v1h-1zM343 95h1v1h-1zM343 98h1v1h-1zM343 99h1v1h-1zM343 102h1v1h-1zM343 103h1v1h-1zM343 106h1v1h-1zM343 107h1v1h-1zM343 110h1v1h-1zM343 111h1v1h-1zM343 114h1v1h-1zM343 115h1v1h-1zM343 118h1v1h-1zM343 119h1v1h-1zM343 122h1v1h-1zM343 123h1v1h-1zM343 126h1v1h-1zM343 127h1v1h-1zM343 130h1v1h-1zM343 131h1v1h-1zM343 134h1v1h-1zM343 135h1v1h-1zM343 138h1v1h-1zM343 139h1v1h-1zM343 142h1v1h-1zM343 143h1v1h-1zM343 146h1v1h-1zM343 147h1v1h-1zM343 150h1v1h-1zM343 151h1v1h-1zM343 154h1v1h-1zM343 155h1v1h-1zM343 158h1v1h-1zM343 159h1v1h-1zM343 162h1v1h-1zM343 163h1v1h-1zM343 166h1v1h-1zM343 167h1v1h-1zM343 170h1v1h-1zM343 171h1v1h-1zM343 174h1v1h-1zM343 175h1v1h-1zM343 178h1v1h-1zM343 179h1v1h-1zM343 182h1v1h-1zM343 183h1v1h-1zM343 186h1v1h-1zM343 187h1v1h-1zM343 190h1v1h-1zM343 191h1v1h-1zM343 194h1v1h-1zM343 195h1v1h-1zM343 198h1v1h-1zM343 199h1v1h-1zM343 202h1v1h-1zM343 203h1v1h-1zM343 206h1v1h-1zM343 207h1v1h-1zM343 210h1v1h-1zM343 211h1v1h-1zM343 214h1v1h-1zM343 215h1v1h-1zM343 218h1v1h-1zM343 219h1v1h-1zM343 222h1v1h-1zM343 223h1v1h-1zM343 226h1v1h-1zM343 227h1v1h-1zM343 230h1v1h-1zM343 231h1v1h-1zM343 234h1v1h-1zM343 235h1v1h-1zM343 238h1v1h-1zM343 239h1v1h-1zM343 242h1v1h-1zM343 243h1v1h-1zM343 246h1v1h-1zM343 247h1v1h-1zM343 250h1v1h-1zM343 251h1v1h-1zM343 254h1v1h-1zM343 255h1v1h-1zM343 258h1v1h-1zM343 259h1v1h-1zM343 262h1v1h-1zM343 263h1v1h-1zM343 266h1v1h-1zM343 267h1v1h-1zM343 270h1v1h-1zM343 271h1v1h-1zM343 274h1v1h-1zM343 275h1v1h-1zM343 278h1v1h-1zM343 279h1v1h-1zM343 282h1v1h-1zM343 283h1v1h-1zM343 286h1v1h-1zM343 287h1v1h-1zM343 290h1v1h-1zM343 291h1v1h-1zM343 294h1v1h-1zM343 295h1v1h-1zM343 298h1v1h-1zM343 299h1v1h-1zM343 302h1v1h-1zM343 303h1v1h-1zM343 306h1v1h-1zM343 307h1v1h-1zM343 310h1v1h-1zM343 311h1v1h-1zM343 314h1v1h-1zM343 315h1v1h-1zM343 318h1v1h-1zM343 319h1v1h-1zM343 322h1v1h-1zM343 323h1v1h-1zM343 326h1v1h-1zM343 327h1v1h-1zM343 330h1v1h-1zM343 331h1v1h-1zM343 334h1v1h-1zM343 335h1v1h-1zM343 338h1v1h-1zM343 339h1v1h-1zM343 342h1v1h-1zM343 343h1v1h-1zM343 346h1v1h-1zM343 347h1v1h-1zM343 350h1v1h-1zM343 351h1v1h-1zM343 354h1v1h-1zM343 355h1v1h-1zM343 358h1v1h-1zM343 359h1v1h-1zM343 362h1v1h-1zM343 363h1v1h-1zM343 366h1v1h-1zM343 367h1v1h-1zM343 370h1v1h-1zM343 371h1v1h-1zM343 374h1v1h-1zM343 375h1v1h-1zM343 378h1v1h-1zM343 379h1v1h-1zM343 382h1v1h-1zM343 383h1v1h-1zM343 386h1v1h-1zM343 387h1v1h-1zM343 390h1v1h-1zM343 391h1v1h-1zM343 394h1v1h-1zM343 395h1v1h-1zM343 398h1v1h-1zM343 399h1v1h-1zM343 402h1v1h-1zM343 403h1v1h-1zM343 406h1v1h-1zM343 407h1v1h-1zM343 410h1v1h-1zM343 411h1v1h-1zM343 414h1v1h-1zM343 415h1v1h-1zM343 418h1v1h-1zM343 419h1v1h-1zM343 422h1v1h-1zM343 423h1v1h-1zM343 426h1v1h-1zM343 427h1v1h-1zM343 430h1v1h-1zM432 94h1v1h-1zM432 95h1v1h-1zM432 98h1v1h-1zM432 99h1v1h-1zM432 102h1v1h-1zM432 103h1v1h-1zM432 106h1v1h-1zM432 107h1v1h-1zM432 110h1v1h-1zM432 111h1v1h-1zM432 114h1v1h-1zM432 115h1v1h-1zM432 118h1v1h-1zM432 119h1v1h-1zM432 122h1v1h-1zM432 123h1v1h-1zM432 126h1v1h-1zM432 127h1v1h-1zM432 130h1v1h-1zM432 131h1v1h-1zM432 134h1v1h-1zM432 135h1v1h-1zM432 138h1v1h-1zM432 139h1v1h-1zM432 142h1v1h-1zM432 143h1v1h-1zM432 146h1v1h-1zM432 147h1v1h-1zM432 150h1v1h-1zM432 151h1v1h-1zM432 154h1v1h-1zM432 155h1v1h-1zM432 158h1v1h-1zM432 159h1v1h-1zM432 162h1v1h-1zM432 163h1v1h-1zM432 166h1v1h-1zM432 167h1v1h-1zM432 170h1v1h-1zM432 171h1v1h-1zM432 174h1v1h-1zM432 175h1v1h-1zM432 178h1v1h-1zM432 179h1v1h-1zM432 182h1v1h-1zM432 183h1v1h-1zM432 186h1v1h-1zM432 187h1v1h-1zM432 190h1v1h-1zM432 191h1v1h-1zM432 194h1v1h-1zM432 195h1v1h-1zM432 198h1v1h-1zM432 199h1v1h-1zM432 202h1v1h-1zM432 203h1v1h-1zM432 206h1v1h-1zM432 207h1v1h-1zM432 210h1v1h-1zM432 211h1v1h-1zM432 214h1v1h-1zM432 215h1v1h-1zM432 218h1v1h-1zM432 219h1v1h-1zM432 222h1v1h-1zM432 223h1v1h-1zM432 226h1v1h-1zM432 227h1v1h-1zM432 230h1v1h-1zM432 231h1v1h-1zM432 234h1v1h-1zM432 235h1v1h-1zM432 238h1v1h-1zM432 239h1v1h-1zM432 242h1v1h-1zM432 243h1v1h-1zM432 246h1v1h-1zM432 247h1v1h-1zM432 250h1v1h-1zM432 251h1v1h-1zM432 254h1v1h-1zM432 255h1v1h-1zM432 258h1v1h-1zM432 259h1v1h-1zM432 262h1v1h-1zM432 263h1v1h-1zM432 266h1v1h-1zM432 267h1v1h-1zM432 270h1v1h-1zM432 271h1v1h-1zM432 274h1v1h-1zM432 275h1v1h-1zM432 278h1v1h-1zM432 279h1v1h-1zM432 282h1v1h-1zM432 283h1v1h-1zM432 286h1v1h-1zM432 287h1v1h-1zM432 290h1v1h-1zM432 291h1v1h-1zM432 294h1v1h-1zM432 295h1v1h-1zM432 298h1v1h-1zM432 299h1v1h-1zM432 302h1v1h-1zM432 303h1v1h-1zM432 306h1v1h-1zM432 307h1v1h-1zM432 310h1v1h-1zM432 311h1v1h-1zM432 314h1v1h-1zM432 315h1v1h-1zM432 318h1v1h-1zM432 319h1v1h-1zM432 322h1v1h-1zM432 323h1v1h-1zM432 326h1v1h-1zM432 327h1v1h-1zM432 330h1v1h-1zM432 331h1v1h-1zM432 334h1v1h-1zM432 335h1v1h-1zM432 338h1v1h-1zM432 339h1v1h-1zM432 342h1v1h-1zM432 343h1v1h-1zM432 346h1v1h-1zM432 347h1v1h-1zM432 350h1v1h-1zM432 351h1v1h-1zM432 354h1v1h-1zM432 355h1v1h-1zM432 358h1v1h-1zM432 359h1v1h-1zM432 362h1v1h-1zM432 363h1v1h-1zM432 366h1v1h-1zM432 367h1v1h-1zM432 370h1v1h-1zM432 371h1v1h-1zM432 374h1v1h-1zM432 375h1v1h-1zM432 378h1v1h-1zM432 379h1v1h-1zM432 382h1v1h-1zM432 383h1v1h-1zM432 386h1v1h-1zM432 387h1v1h-1zM432 390h1v1h-1zM432 391h1v1h-1zM432 394h1v1h-1zM432 395h1v1h-1zM432 398h1v1h-1zM432 399h1v1h-1zM432 402h1v1h-1zM432 403h1v1h-1zM432 406h1v1h-1zM432 407h1v1h-1zM432 410h1v1h-1zM432 411h1v1h-1zM432 414h1v1h-1zM432 415h1v1h-1zM432 418h1v1h-1zM432 419h1v1h-1zM432 422h1v1h-1zM432 423h1v1h-1zM432 426h1v1h-1zM432 427h1v1h-1zM432 430h1v1h-1zM522 94h1v1h-1zM522 95h1v1h-1zM522 98h1v1h-1zM522 99h1v1h-1zM522 102h1v1h-1zM522 103h1v1h-1zM522 106h1v1h-1zM522 107h1v1h-1zM522 110h1v1h-1zM522 111h1v1h-1zM522 114h1v1h-1zM522 115h1v1h-1zM522 118h1v1h-1zM522 119h1v1h-1zM522 122h1v1h-1zM522 123h1v1h-1zM522 126h1v1h-1zM522 127h1v1h-1zM522 130h1v1h-1zM522 131h1v1h-1zM522 134h1v1h-1zM522 135h1v1h-1zM522 138h1v1h-1zM522 139h1v1h-1zM522 142h1v1h-1zM522 143h1v1h-1zM522 146h1v1h-1zM522 147h1v1h-1zM522 150h1v1h-1zM522 151h1v1h-1zM522 154h1v1h-1zM522 155h1v1h-1zM522 158h1v1h-1zM522 159h1v1h-1zM522 162h1v1h-1zM522 163h1v1h-1zM522 166h1v1h-1zM522 167h1v1h-1zM522 170h1v1h-1zM522 171h1v1h-1zM522 174h1v1h-1zM522 175h1v1h-1zM522 178h1v1h-1zM522 179h1v1h-1zM522 182h1v1h-1zM522 183h1v1h-1zM522 186h1v1h-1zM522 187h1v1h-1zM522 190h1v1h-1zM522 191h1v1h-1zM522 194h1v1h-1zM522 195h1v1h-1zM522 198h1v1h-1zM522 199h1v1h-1zM522 202h1v1h-1zM522 203h1v1h-1zM522 206h1v1h-1zM522 207h1v1h-1zM522 210h1v1h-1zM522 211h1v1h-1zM522 214h1v1h-1zM522 215h1v1h-1zM522 218h1v1h-1zM522 219h1v1h-1zM522 222h1v1h-1zM522 223h1v1h-1zM522 226h1v1h-1zM522 227h1v1h-1zM522 230h1v1h-1zM522 231h1v1h-1zM522 234h1v1h-1zM522 235h1v1h-1zM522 238h1v1h-1zM522 239h1v1h-1zM522 242h1v1h-1zM522 243h1v1h-1zM522 246h1v1h-1zM522 247h1v1h-1zM522 250h1v1h-1zM522 251h1v1h-1zM522 254h1v1h-1zM522 255h1v1h-1zM522 258h1v1h-1zM522 259h1v1h-1zM522 262h1v1h-1zM522 263h1v1h-1zM522 266h1v1h-1zM522 267h1v1h-1zM522 270h1v1h-1zM522 271h1v1h-1zM522 274h1v1h-1zM522 275h1v1h-1zM522 278h1v1h-1zM522 279h1v1h-1zM522 282h1v1h-1zM522 283h1v1h-1zM522 286h1v1h-1zM522 287h1v1h-1zM522 290h1v1h-1zM522 291h1v1h-1zM522 294h1v1h-1zM522 295h1v1h-1zM522 298h1v1h-1zM522 299h1v1h-1zM522 302h1v1h-1zM522 303h1v1h-1zM522 306h1v1h-1zM522 307h1v1h-1zM522 310h1v1h-1zM522 311h1v1h-1zM522 314h1v1h-1zM522 315h1v1h-1zM522 318h1v1h-1zM522 319h1v1h-1zM522 322h1v1h-1zM522 323h1v1h-1zM522 326h1v1h-1zM522 327h1v1h-1zM522 330h1v1h-1zM522 331h1v1h-1zM522 334h1v1h-1zM522 335h1v1h-1zM522 338h1v1h-1zM522 339h1v1h-1zM522 342h1v1h-1zM522 343h1v1h-1zM522 346h1v1h-1zM522 347h1v1h-1zM522 350h1v1h-1zM522 351h1v1h-1zM522 354h1v1h-1zM522 355h1v1h-1zM522 358h1v1h-1zM522 359h1v1h-1zM522 362h1v1h-1zM522 363h1v1h-1zM522 366h1v1h-1zM522 367h1v1h-1zM522 370h1v1h-1zM522 371h1v1h-1zM522 374h1v1h-1zM522 375h1v1h-1zM522 378h1v1h-1zM522 379h1v1h-1zM522 382h1v1h-1zM522 383h1v1h-1zM522 386h1v1h-1zM522 387h1v1h-1zM522 390h1v1h-1zM522 391h1v1h-1zM522 394h1v1h-1zM522 395h1v1h-1zM522 398h1v1h-1zM522 399h1v1h-1zM522 402h1v1h-1zM522 403h1v1h-1zM522 406h1v1h-1zM522 407h1v1h-1zM522 410h1v1h-1zM522 411h1v1h-1zM522 414h1v1h-1zM522 415h1v1h-1zM522 418h1v1h-1zM522 419h1v1h-1zM522 422h1v1h-1zM522 423h1v1h-1zM522 426h1v1h-1zM522 427h1v1h-1zM522 430h1v1h-1z"/><path fill="#000" d="M73 45h5v1h-5zM608 45h5v1h-5zM73 100h5v1h-5zM608 100h5v1h-5zM73 155h5v1h-5zM608 155h5v1h-5zM73 210h5v1h-5zM608 210h5v1h-5zM73 266h5v1h-5zM608 266h5v1h-5zM73 321h5v1h-5zM608 321h5v1h-5zM73 376h5v1h-5zM608 376h5v1h-5zM73 431h5v1h-5zM608 431h5v1h-5zM73 427h1v5h-1zM73 45h1v5h-1zM163 427h1v5h-1zM163 45h1v5h-1zM253 427h1v5h-1zM253 45h1v5h-1zM343 427h1v5h-1zM343 45h1v5h-1zM432 427h1v5h-1zM432 45h1v5h-1zM522 427h1v5h-1zM522 45h1v5h-1zM612 427h1v5h-1zM612 45h1v5h-1z"/><text x="64" y="48.9" text-anchor="end" font-family="Liberation Sans, sans-serif" font-size="16" fill="#000">1</text><text x="64" y="103.9" text-anchor="end" font-family="Liberation Sans, sans-serif" font-size="16" fill="#000">0.8</text><text x="64" y="158.9" text-anchor="end" font-family="Liberation Sans, sans-serif" font-size="16" fill="#000">0.6</text><text x="64" y="213.9" text-anchor="end" font-family="Liberation Sans, sans-serif" font-size="16" fill="#000">0.4</text><text x="64" y="269.9" text-anchor="end" font-family="Liberation Sans, sans-serif" font-size="16" fill="#000">0.2</text><text x="64" y="324.9" text-anchor="end" font-family="Liberation Sans, sans-serif" font-size="16" fill="#000">0</text><text x="64" y="379.9" text-anchor="end" font-family="Liberation Sans, sans-serif" font-size="16" fill="#000">-0.2</text><text x="64" y="434.9" text-anchor="end" font-family="Liberation Sans, sans-serif" font-size="16" fill="#000">-0.4</text><text x="72.37" y="449.9" text-anchor="middle" font-family="Liberation Sans, sans-serif" font-size="16" fill="#000">-15</text><text x="162.38" y="449.9" text-anchor="middle" font-family="Liberation Sans, sans-serif" font-size="16" fill="#000">-10</text><text x="252.86" y="449.9" text-anchor="middle" font-family="Liberation Sans, sans-serif" font-size="16" fill="#000">-5</text><text x="344.33" y="449.9" text-anchor="middle" font-family="Liberation Sans, sans-serif" font-size="16" fill="#000">0</text><text x="433.53" y="449.9" text-anchor="middle" font-family="Liberation Sans, sans-serif" font-size="16" fill="#000">5</text><text x="523.75" y="449.9" text-anchor="middle" font-family="Liberation Sans, sans-serif" font-size="16" fill="#000">10</text><text x="613.75" y="449.9" text-anchor="middle" font-family="Liberation Sans, sans-serif" font-size="16" fill="#000">15</text><text x="341.8" y="26.9" text-anchor="middle" font-family="Liberation Sans, sans-serif" font-size="16" fill="#000">Marking points in gnuplot</text><text x="342" y="471.9" text-anchor="middle" font-family="Liberation Sans, sans-serif" font-size="16" fill="#000">Distance Rho</text><text transform="translate(16.9 238.1) rotate(-90)" x="0" y="0" text-anchor="middle" textLength="135.4" lengthAdjust="spacing" font-family="Liberation Sans, sans-serif" font-size="16" fill="#000">Correlation C(Rho)</text><text x="545" y="60.9" text-anchor="end" textLength="230.5" lengthAdjust="spacing" font-family="Liberation Sans, sans-serif" font-size="16" fill="#000">"mark_points_data.txt" using 1:2</text><path fill="#0000ff" d="M553 56h43v3h-43z"/><path fill="#0000ff" d="M342 44h3v1h-3zM340 45h6v1h-6zM338 46h10v1h-10zM337 47h12v1h-12zM336 48h6v1h-6zM344 48h6v1h-6zM336 49h4v1h-4zM346 49h4v1h-4zM335 50h4v1h-4zM347 50h4v1h-4zM335 51h4v1h-4zM347 51h4v1h-4zM334 52h4v1h-4zM348 52h4v1h-4zM334 53h4v1h-4zM348 53h4v1h-4zM333 54h4v1h-4zM349 54h4v1h-4zM333 55h4v1h-4zM349 55h4v1h-4zM332 56h4v1h-4zM350 56h4v1h-4zM332 57h4v1h-4zM350 57h4v1h-4zM332 58h3v1h-3zM351 58h3v1h-3zM331 59h4v1h-4zM351 59h4v1h-4zM331 60h4v1h-4zM351 60h4v1h-4zM331 61h3v1h-3zM352 61h3v1h-3zM331 62h3v1h-3zM352 62h3v1h-3zM330 63h4v1h-4zM352 63h4v1h-4zM330 64h4v1h-4zM352 64h4v1h-4zM330 65h3v1h-3zM353 65h3v1h-3zM329 66h4v1h-4zM353 66h4v1h-4zM329 67h4v1h-4zM353 67h4v1h-4zM329 68h3v1h-3zM354 68h3v1h-3zM328 69h4v1h-4zM354 69h4v1h-4zM328 70h4v1h-4zM354 70h4v1h-4zM328 71h3v1h-3zM355 71h3v1h-3zM328 72h3v1h-3zM355 72h3v1h-3zM327 73h4v1h-4zM355 73h4v1h-4zM327 74h4v1h-4zM355 74h4v1h-4zM327 75h3v1h-3zM356 75h3v1h-3zM326 76h4v1h-4zM356 76h4v1h-4zM326 77h4v1h-4zM356 77h4v1h-4zM326 78h3v1h-3zM357 78h3v1h-3zM325 79h4v1h-4zM357 79h4v1h-4zM325 80h4v1h-4zM357 80h4v1h-4zM325 81h3v1h-3zM358 81h3v1h-3zM325 82h3v1h-3zM358 82h3v1h-3zM324 83h4v1h-4zM358 83h4v1h-4zM324 84h4v1h-4zM358 84h4v1h-4zM324 85h3v1h-3zM359 85h3v1h-3zM324 86h3v1h-3zM359 86h3v1h-3zM323 87h4v1h-4zM359 87h4v1h-4zM323 88h4v1h-4zM359 88h4v1h-4zM323 89h3v1h-3zM360 89h3v1h-3zM323 90h3v1h-3zM360 90h3v1h-3zM323 91h3v1h-3zM360 91h3v1h-3zM323 92h3v1h-3zM360 92h3v1h-3zM322 93h4v1h-4zM360 93h4v1h-4zM322 94h4v1h-4zM360 94h4v1h-4zM322 95h3v1h-3zM361 95h3v1h-3zM322 96h3v1h-3zM361 96h3v1h-3zM322 97h3v1h-3zM361 97h3v1h-3zM321 98h4v1h-4zM361 98h4v1h-4zM321 99h4v1h-4zM361 99h4v1h-4zM321 100h3v1h-3zM362 100h3v1h-3zM321 101h3v1h-3zM362 101h3v1h-3zM321 102h3v1h-3zM362 102h3v1h-3zM321 103h3v1h-3zM362 103h3v1h-3zM320 104h4v1h-4zM362 104h4v1h-4zM320 105h4v1h-4zM362 105h4v1h-4zM320 106h3v1h-3zM363 106h3v1h-3zM320 107h3v1h-3zM363 107h3v1h-3zM320 108h3v1h-3zM363 108h3v1h-3zM319 109h4v1h-4zM363 109h4v1h-4zM319 110h4v1h-4zM363 110h4v1h-4zM319 111h3v1h-3zM364 111h3v1h-3zM319 112h3v1h-3zM364 112h3v1h-3zM319 113h3v1h-3zM364 113h3v1h-3zM319 114h3v1h-3zM364 114h3v1h-3zM318 115h4v1h-4zM364 115h4v1h-4zM318 116h4v1h-4zM364 116h4v1h-4zM318 117h3v1h-3zM365 117h3v1h-3zM318 118h3v1h-3zM365 118h3v1h-3zM318 119h3v1h-3zM365 119h3v1h-3zM318 120h3v1h-3zM365 120h3v1h-3zM317 121h4v1h-4zM365 121h4v1h-4zM317 122h4v1h-4zM365 122h4v1h-4zM317 123h3v1h-3zM366 123h3v1h-3zM317 124h3v1h-3zM366 124h3v1h-3zM317 125h3v1h-3zM366 125h3v1h-3zM317 126h3v1h-3zM366 126h3v1h-3zM316 127h4v1h-4zM366 127h4v1h-4zM316 128h4v1h-4zM366 128h4v1h-4zM316 129h3v1h-3zM367 129h3v1h-3zM316 130h3v1h-3zM367 130h3v1h-3zM316 131h3v1h-3zM367 131h3v1h-3zM316 132h3v1h-3zM367 132h3v1h-3zM315 133h4v1h-4zM367 133h4v1h-4zM315 134h4v1h-4zM367 134h4v1h-4zM315 135h3v1h-3zM368 135h3v1h-3zM315 136h3v1h-3zM368 136h3v1h-3zM315 137h3v1h-3zM368 137h3v1h-3zM315 138h3v1h-3zM368 138h3v1h-3zM314 139h4v1h-4zM368 139h4v1h-4zM314 140h4v1h-4zM368 140h4v1h-4zM314 141h3v1h-3zM369 141h3v1h-3zM314 142h3v1h-3zM369 142h3v1h-3zM314 143h3v1h-3zM369 143h3v1h-3zM313 144h4v1h-4zM369 144h4v1h-4zM313 145h4v1h-4zM369 145h4v1h-4zM313 146h3v1h-3zM370 146h3v1h-3zM313 147h3v1h-3zM370 147h3v1h-3zM313 148h3v1h-3zM370 148h3v1h-3zM312 149h4v1h-4zM370 149h4v1h-4zM312 150h4v1h-4zM370 150h4v1h-4zM312 151h3v1h-3zM371 151h3v1h-3zM312 152h3v1h-3zM371 152h3v1h-3zM312 153h3v1h-3zM371 153h3v1h-3zM312 154h3v1h-3zM371 154h3v1h-3zM311 155h4v1h-4zM371 155h4v1h-4zM311 156h4v1h-4zM371 156h4v1h-4zM311 157h3v1h-3zM372 157h3v1h-3zM311 158h3v1h-3zM372 158h3v1h-3zM311 159h3v1h-3zM372 159h3v1h-3zM311 160h3v1h-3zM372 160h3v1h-3zM310 161h4v1h-4zM372 161h4v1h-4zM310 162h4v1h-4zM372 162h4v1h-4zM310 163h3v1h-3zM373 163h3v1h-3zM310 164h3v1h-3zM373 164h3v1h-3zM310 165h3v1h-3zM373 165h3v1h-3zM310 166h3v1h-3zM373 166h3v1h-3zM310 167h3v1h-3zM373 167h3v1h-3zM309 168h4v1h-4zM373 168h4v1h-4zM309 169h4v1h-4zM373 169h4v1h-4zM309 170h3v1h-3zM374 170h3v1h-3zM309 171h3v1h-3zM374 171h3v1h-3zM309 172h3v1h-3zM374 172h3v1h-3zM309 173h3v1h-3zM374 173h3v1h-3zM309 174h3v1h-3zM374 174h3v1h-3zM308 175h4v1h-4zM374 175h4v1h-4zM308 176h4v1h-4zM374 176h4v1h-4zM308 177h3v1h-3zM375 177h3v1h-3zM308 178h3v1h-3zM375 178h3v1h-3zM308 179h3v1h-3zM375 179h3v1h-3zM308 180h3v1h-3zM375 180h3v1h-3zM308 181h3v1h-3zM375 181h3v1h-3zM307 182h4v1h-4zM375 182h4v1h-4zM307 183h4v1h-4zM375 183h4v1h-4zM307 184h3v1h-3zM376 184h3v1h-3zM307 185h3v1h-3zM376 185h3v1h-3zM307 186h3v1h-3zM376 186h3v1h-3zM307 187h3v1h-3zM376 187h3v1h-3zM307 188h3v1h-3zM376 188h3v1h-3zM306 189h4v1h-4zM376 189h4v1h-4zM306 190h4v1h-4zM376 190h4v1h-4zM306 191h3v1h-3zM377 191h3v1h-3zM306 192h3v1h-3zM377 192h3v1h-3zM306 193h3v1h-3zM377 193h3v1h-3zM306 194h3v1h-3zM377 194h3v1h-3zM306 195h3v1h-3zM377 195h3v1h-3zM305 196h4v1h-4zM377 196h4v1h-4zM305 197h4v1h-4zM377 197h4v1h-4zM305 198h3v1h-3zM378 198h3v1h-3zM305 199h3v1h-3zM378 199h3v1h-3zM305 200h3v1h-3zM378 200h3v1h-3zM305 201h3v1h-3zM378 201h3v1h-3zM305 202h3v1h-3zM378 202h3v1h-3zM305 203h3v1h-3zM378 203h3v1h-3zM304 204h4v1h-4zM378 204h4v1h-4zM304 205h4v1h-4zM378 205h4v1h-4zM304 206h3v1h-3zM379 206h3v1h-3zM304 207h3v1h-3zM379 207h3v1h-3zM304 208h3v1h-3zM379 208h3v1h-3zM304 209h3v1h-3zM379 209h3v1h-3zM304 210h3v1h-3zM379 210h3v1h-3zM303 211h4v1h-4zM379 211h4v1h-4zM303 212h4v1h-4zM379 212h4v1h-4zM303 213h3v1h-3zM380 213h3v1h-3zM303 214h3v1h-3zM380 214h3v1h-3zM303 215h3v1h-3zM380 215h3v1h-3zM303 216h3v1h-3zM380 216h3v1h-3zM302 217h4v1h-4zM380 217h4v1h-4zM302 218h4v1h-4zM380 218h4v1h-4zM302 219h3v1h-3zM381 219h3v1h-3zM302 220h3v1h-3zM381 220h3v1h-3zM302 221h3v1h-3zM381 221h3v1h-3zM302 222h3v1h-3zM381 222h3v1h-3zM301 223h4v1h-4zM381 223h4v1h-4zM301 224h4v1h-4zM381 224h4v1h-4zM301 225h3v1h-3zM382 225h3v1h-3zM301 226h3v1h-3zM382 226h3v1h-3zM301 227h3v1h-3zM382 227h3v1h-3zM300 228h4v1h-4zM382 228h4v1h-4zM300 229h4v1h-4zM382 229h4v1h-4zM300 230h3v1h-3zM383 230h3v1h-3zM300 231h3v1h-3zM383 231h3v1h-3zM300 232h3v1h-3zM383 232h3v1h-3zM300 233h3v1h-3zM383 233h3v1h-3zM299 234h4v1h-4zM383 234h4v1h-4zM299 235h4v1h-4zM383 235h4v1h-4zM299 236h3v1h-3zM384 236h3v1h-3zM299 237h3v1h-3zM384 237h3v1h-3zM299 238h3v1h-3zM384 238h3v1h-3zM299 239h3v1h-3zM384 239h3v1h-3zM298 240h4v1h-4zM384 240h4v1h-4zM298 241h4v1h-4zM384 241h4v1h-4zM298 242h3v1h-3zM385 242h3v1h-3zM298 243h3v1h-3zM385 243h3v1h-3zM298 244h3v1h-3zM385 244h3v1h-3zM298 245h3v1h-3zM385 245h3v1h-3zM297 246h4v1h-4zM385 246h4v1h-4zM297 247h4v1h-4zM385 247h4v1h-4zM297 248h3v1h-3zM386 248h3v1h-3zM297 249h3v1h-3zM386 249h3v1h-3zM297 250h3v1h-3zM386 250h3v1h-3zM297 251h3v1h-3zM386 251h3v1h-3zM297 252h3v1h-3zM386 252h3v1h-3zM296 253h4v1h-4zM386 253h4v1h-4zM296 254h4v1h-4zM386 254h4v1h-4zM296 255h3v1h-3zM387 255h3v1h-3zM296 256h3v1h-3zM387 256h3v1h-3zM296 257h3v1h-3zM387 257h3v1h-3zM296 258h3v1h-3zM387 258h3v1h-3zM295 259h4v1h-4zM387 259h4v1h-4zM295 260h4v1h-4zM387 260h4v1h-4zM295 261h3v1h-3zM388 261h3v1h-3zM295 262h3v1h-3zM388 262h3v1h-3zM295 263h3v1h-3zM388 263h3v1h-3zM295 264h3v1h-3zM388 264h3v1h-3zM295 265h3v1h-3zM388 265h3v1h-3zM294 266h4v1h-4zM388 266h4v1h-4zM294 267h4v1h-4zM388 267h4v1h-4zM294 268h3v1h-3zM389 268h3v1h-3zM294 269h3v1h-3zM389 269h3v1h-3zM294 270h3v1h-3zM389 270h3v1h-3zM294 271h3v1h-3zM389 271h3v1h-3zM294 272h3v1h-3zM389 272h3v1h-3zM293 273h4v1h-4zM389 273h4v1h-4zM293 274h4v1h-4zM389 274h4v1h-4zM293 275h3v1h-3zM390 275h3v1h-3zM293 276h3v1h-3zM390 276h3v1h-3zM293 277h3v1h-3zM390 277h3v1h-3zM293 278h3v1h-3zM390 278h3v1h-3zM292 279h4v1h-4zM390 279h4v1h-4zM292 280h4v1h-4zM390 280h4v1h-4zM292 281h3v1h-3zM391 281h3v1h-3zM292 282h3v1h-3zM391 282h3v1h-3zM292 283h3v1h-3zM391 283h3v1h-3zM202 284h5v1h-5zM292 284h3v1h-3zM391 284h3v1h-3zM478 284h6v1h-6zM198 285h11v1h-11zM292 285h3v1h-3zM391 285h3v1h-3zM476 285h11v1h-11zM196 286h15v1h-15zM291 286h4v1h-4zM391 286h4v1h-4zM475 286h14v1h-14zM195 287h9v1h-9zM205 287h7v1h-7zM291 287h4v1h-4zM391 287h4v1h-4zM473 287h7v1h-7zM482 287h9v1h-9zM194 288h6v1h-6zM207 288h7v1h-7zM291 288h3v1h-3zM392 288h3v1h-3zM472 288h6v1h-6zM485 288h7v1h-7zM193 289h5v1h-5zM209 289h6v1h-6zM291 289h3v1h-3zM392 289h3v1h-3zM471 289h6v1h-6zM487 289h6v1h-6zM193 290h4v1h-4zM210 290h6v1h-6zM291 290h3v1h-3zM392 290h3v1h-3zM470 290h5v1h-5zM489 290h4v1h-4zM192 291h4v1h-4zM212 291h4v1h-4zM291 291h3v1h-3zM392 291h3v1h-3zM470 291h4v1h-4zM490 291h4v1h-4zM191 292h5v1h-5zM213 292h4v1h-4zM290 292h4v1h-4zM392 292h4v1h-4zM469 292h4v1h-4zM490 292h5v1h-5zM190 293h5v1h-5zM213 293h5v1h-5zM290 293h4v1h-4zM392 293h4v1h-4zM468 293h5v1h-5zM491 293h5v1h-5zM189 294h5v1h-5zM214 294h4v1h-4zM290 294h3v1h-3zM393 294h3v1h-3zM468 294h4v1h-4zM492 294h5v1h-5zM188 295h5v1h-5zM215 295h4v1h-4zM290 295h3v1h-3zM393 295h3v1h-3zM467 295h4v1h-4zM493 295h5v1h-5zM187 296h5v1h-5zM215 296h5v1h-5zM290 296h3v1h-3zM393 296h3v1h-3zM466 296h5v1h-5zM494 296h5v1h-5zM186 297h5v1h-5zM216 297h4v1h-4zM290 297h3v1h-3zM393 297h3v1h-3zM466 297h4v1h-4zM495 297h5v1h-5zM185 298h5v1h-5zM217 298h4v1h-4zM289 298h4v1h-4zM393 298h4v1h-4zM465 298h4v1h-4zM496 298h5v1h-5zM185 299h4v1h-4zM217 299h5v1h-5zM289 299h4v1h-4zM393 299h4v1h-4zM464 299h5v1h-5zM497 299h4v1h-4zM184 300h4v1h-4zM218 300h5v1h-5zM289 300h3v1h-3zM394 300h3v1h-3zM463 300h5v1h-5zM498 300h4v1h-4zM184 301h4v1h-4zM219 301h4v1h-4zM289 301h3v1h-3zM394 301h3v1h-3zM463 301h4v1h-4zM498 301h4v1h-4zM183 302h4v1h-4zM220 302h4v1h-4zM288 302h4v1h-4zM394 302h4v1h-4zM462 302h4v1h-4zM499 302h4v1h-4zM183 303h4v1h-4zM220 303h4v1h-4zM288 303h4v1h-4zM394 303h4v1h-4zM462 303h4v1h-4zM499 303h4v1h-4zM182 304h4v1h-4zM221 304h4v1h-4zM288 304h3v1h-3zM395 304h3v1h-3zM461 304h4v1h-4zM500 304h4v1h-4zM181 305h5v1h-5zM221 305h4v1h-4zM288 305h3v1h-3zM395 305h3v1h-3zM461 305h4v1h-4zM500 305h5v1h-5zM181 306h4v1h-4zM222 306h4v1h-4zM288 306h3v1h-3zM395 306h3v1h-3zM460 306h4v1h-4zM501 306h4v1h-4zM180 307h4v1h-4zM222 307h4v1h-4zM287 307h4v1h-4zM395 307h4v1h-4zM460 307h4v1h-4zM502 307h4v1h-4zM180 308h4v1h-4zM223 308h4v1h-4zM287 308h4v1h-4zM395 308h4v1h-4zM459 308h4v1h-4zM502 308h4v1h-4zM179 309h4v1h-4zM223 309h4v1h-4zM287 309h3v1h-3zM396 309h3v1h-3zM459 309h4v1h-4zM503 309h4v1h-4zM179 310h4v1h-4zM224 310h4v1h-4zM287 310h3v1h-3zM396 310h3v1h-3zM458 310h4v1h-4zM503 310h4v1h-4zM178 311h4v1h-4zM224 311h4v1h-4zM287 311h3v1h-3zM396 311h3v1h-3zM458 311h4v1h-4zM504 311h4v1h-4zM177 312h5v1h-5zM225 312h3v1h-3zM286 312h4v1h-4zM396 312h4v1h-4zM458 312h3v1h-3zM504 312h5v1h-5zM177 313h4v1h-4zM225 313h4v1h-4zM286 313h4v1h-4zM396 313h4v1h-4zM457 313h4v1h-4zM505 313h4v1h-4zM176 314h4v1h-4zM225 314h4v1h-4zM286 314h3v1h-3zM397 314h3v1h-3zM457 314h4v1h-4zM506 314h4v1h-4zM175 315h5v1h-5zM226 315h3v1h-3zM286 315h3v1h-3zM397 315h3v1h-3zM457 315h3v1h-3zM506 315h5v1h-5zM174 316h5v1h-5zM226 316h4v1h-4zM285 316h4v1h-4zM397 316h4v1h-4zM456 316h4v1h-4zM507 316h5v1h-5zM174 317h4v1h-4zM226 317h4v1h-4zM285 317h4v1h-4zM397 317h4v1h-4zM456 317h4v1h-4zM508 317h4v1h-4zM173 318h4v1h-4zM227 318h4v1h-4zM285 318h3v1h-3zM398 318h3v1h-3zM455 318h4v1h-4zM509 318h4v1h-4zM172 319h5v1h-5zM227 319h4v1h-4zM285 319h3v1h-3zM398 319h3v1h-3zM455 319h4v1h-4zM509 319h5v1h-5zM172 320h4v1h-4zM228 320h3v1h-3zM285 320h3v1h-3zM398 320h3v1h-3zM455 320h3v1h-3zM510 320h4v1h-4zM171 321h4v1h-4zM228 321h4v1h-4zM284 321h4v1h-4zM398 321h4v1h-4zM454 321h4v1h-4zM511 321h4v1h-4zM171 322h4v1h-4zM228 322h4v1h-4zM284 322h4v1h-4zM398 322h4v1h-4zM454 322h4v1h-4zM511 322h4v1h-4zM170 323h4v1h-4zM229 323h3v1h-3zM284 323h3v1h-3zM399 323h3v1h-3zM454 323h3v1h-3zM512 323h4v1h-4zM170 324h4v1h-4zM229 324h4v1h-4zM284 324h3v1h-3zM399 324h3v1h-3zM453 324h4v1h-4zM512 324h4v1h-4zM169 325h4v1h-4zM229 325h4v1h-4zM284 325h3v1h-3zM399 325h3v1h-3zM453 325h4v1h-4zM513 325h4v1h-4zM168 326h5v1h-5zM230 326h4v1h-4zM283 326h4v1h-4zM399 326h4v1h-4zM452 326h4v1h-4zM513 326h5v1h-5zM168 327h4v1h-4zM230 327h4v1h-4zM283 327h4v1h-4zM399 327h4v1h-4zM452 327h4v1h-4zM514 327h4v1h-4zM167 328h4v1h-4zM231 328h4v1h-4zM283 328h3v1h-3zM400 328h3v1h-3zM451 328h4v1h-4zM515 328h4v1h-4zM166 329h5v1h-5zM231 329h4v1h-4zM283 329h3v1h-3zM400 329h3v1h-3zM451 329h4v1h-4zM515 329h5v1h-5zM166 330h4v1h-4zM232 330h4v1h-4zM282 330h4v1h-4zM400 330h4v1h-4zM450 330h4v1h-4zM516 330h4v1h-4zM165 331h4v1h-4zM232 331h4v1h-4zM282 331h4v1h-4zM400 331h4v1h-4zM450 331h4v1h-4zM517 331h4v1h-4zM126 332h3v1h-3zM164 332h5v1h-5zM233 332h4v1h-4zM282 332h3v1h-3zM401 332h3v1h-3zM449 332h4v1h-4zM517 332h5v1h-5zM557 332h3v1h-3zM126 333h4v1h-4zM163 333h5v1h-5zM233 333h4v1h-4zM282 333h3v1h-3zM401 333h3v1h-3zM449 333h4v1h-4zM518 333h5v1h-5zM556 333h4v1h-4zM126 334h5v1h-5zM162 334h5v1h-5zM234 334h3v1h-3zM282 334h3v1h-3zM401 334h3v1h-3zM449 334h3v1h-3zM519 334h5v1h-5zM555 334h5v1h-5zM127 335h4v1h-4zM161 335h5v1h-5zM234 335h4v1h-4zM281 335h4v1h-4zM401 335h4v1h-4zM448 335h4v1h-4zM520 335h5v1h-5zM555 335h4v1h-4zM128 336h4v1h-4zM160 336h5v1h-5zM234 336h4v1h-4zM281 336h4v1h-4zM401 336h4v1h-4zM448 336h4v1h-4zM521 336h5v1h-5zM554 336h4v1h-4zM128 337h5v1h-5zM159 337h5v1h-5zM235 337h3v1h-3zM281 337h3v1h-3zM402 337h3v1h-3zM448 337h3v1h-3zM522 337h5v1h-5zM553 337h5v1h-5zM129 338h6v1h-6zM158 338h5v1h-5zM235 338h4v1h-4zM281 338h3v1h-3zM402 338h3v1h-3zM447 338h4v1h-4zM523 338h5v1h-5zM551 338h6v1h-6zM130 339h7v1h-7zM158 339h4v1h-4zM235 339h4v1h-4zM281 339h3v1h-3zM402 339h3v1h-3zM447 339h4v1h-4zM524 339h4v1h-4zM549 339h7v1h-7zM131 340h7v1h-7zM157 340h4v1h-4zM236 340h4v1h-4zM280 340h4v1h-4zM402 340h4v1h-4zM446 340h4v1h-4zM525 340h4v1h-4zM548 340h7v1h-7zM133 341h6v1h-6zM155 341h6v1h-6zM236 341h4v1h-4zM280 341h4v1h-4zM402 341h4v1h-4zM446 341h4v1h-4zM525 341h5v1h-5zM546 341h7v1h-7zM135 342h6v1h-6zM153 342h7v1h-7zM237 342h3v1h-3zM280 342h3v1h-3zM403 342h3v1h-3zM446 342h3v1h-3zM526 342h6v1h-6zM545 342h6v1h-6zM136 343h6v1h-6zM151 343h8v1h-8zM237 343h4v1h-4zM280 343h3v1h-3zM403 343h3v1h-3zM445 343h4v1h-4zM527 343h8v1h-8zM543 343h7v1h-7zM137 344h7v1h-7zM149 344h8v1h-8zM237 344h4v1h-4zM279 344h4v1h-4zM403 344h4v1h-4zM445 344h4v1h-4zM528 344h9v1h-9zM541 344h7v1h-7zM139 345h16v1h-16zM238 345h3v1h-3zM279 345h4v1h-4zM403 345h4v1h-4zM445 345h3v1h-3zM530 345h17v1h-17zM140 346h13v1h-13zM238 346h4v1h-4zM279 346h3v1h-3zM404 346h3v1h-3zM444 346h4v1h-4zM533 346h12v1h-12zM142 347h9v1h-9zM238 347h4v1h-4zM279 347h3v1h-3zM404 347h3v1h-3zM444 347h4v1h-4zM535 347h8v1h-8zM239 348h4v1h-4zM278 348h4v1h-4zM404 348h4v1h-4zM443 348h4v1h-4zM239 349h4v1h-4zM278 349h4v1h-4zM404 349h4v1h-4zM443 349h4v1h-4zM240 350h3v1h-3zM278 350h3v1h-3zM405 350h3v1h-3zM443 350h3v1h-3zM240 351h4v1h-4zM278 351h3v1h-3zM405 351h3v1h-3zM442 351h4v1h-4zM240 352h4v1h-4zM277 352h4v1h-4zM405 352h4v1h-4zM442 352h4v1h-4zM241 353h4v1h-4zM277 353h4v1h-4zM405 353h4v1h-4zM441 353h4v1h-4zM241 354h4v1h-4zM277 354h3v1h-3zM406 354h3v1h-3zM441 354h4v1h-4zM242 355h4v1h-4zM277 355h3v1h-3zM406 355h3v1h-3zM440 355h4v1h-4zM242 356h4v1h-4zM276 356h4v1h-4zM406 356h4v1h-4zM440 356h4v1h-4zM243 357h4v1h-4zM276 357h4v1h-4zM406 357h4v1h-4zM439 357h4v1h-4zM243 358h4v1h-4zM276 358h3v1h-3zM407 358h3v1h-3zM439 358h4v1h-4zM244 359h4v1h-4zM275 359h4v1h-4zM407 359h4v1h-4zM438 359h4v1h-4zM244 360h4v1h-4zM275 360h4v1h-4zM407 360h4v1h-4zM438 360h4v1h-4zM245 361h4v1h-4zM275 361h3v1h-3zM408 361h3v1h-3zM437 361h4v1h-4zM245 362h4v1h-4zM274 362h4v1h-4zM408 362h4v1h-4zM437 362h4v1h-4zM246 363h4v1h-4zM274 363h4v1h-4zM408 363h4v1h-4zM436 363h4v1h-4zM246 364h4v1h-4zM274 364h3v1h-3zM409 364h3v1h-3zM436 364h4v1h-4zM247 365h4v1h-4zM273 365h4v1h-4zM409 365h4v1h-4zM435 365h4v1h-4zM247 366h4v1h-4zM273 366h4v1h-4zM409 366h4v1h-4zM435 366h4v1h-4zM248 367h4v1h-4zM272 367h4v1h-4zM410 367h4v1h-4zM434 367h4v1h-4zM248 368h4v1h-4zM272 368h4v1h-4zM410 368h4v1h-4zM434 368h4v1h-4zM249 369h4v1h-4zM271 369h4v1h-4zM411 369h4v1h-4zM433 369h4v1h-4zM249 370h4v1h-4zM270 370h5v1h-5zM411 370h5v1h-5zM433 370h4v1h-4zM250 371h4v1h-4zM270 371h4v1h-4zM412 371h4v1h-4zM432 371h4v1h-4zM250 372h4v1h-4zM269 372h4v1h-4zM413 372h4v1h-4zM432 372h4v1h-4zM251 373h4v1h-4zM269 373h4v1h-4zM413 373h4v1h-4zM431 373h4v1h-4zM251 374h5v1h-5zM268 374h4v1h-4zM414 374h4v1h-4zM430 374h5v1h-5zM252 375h4v1h-4zM267 375h5v1h-5zM414 375h5v1h-5zM430 375h4v1h-4zM253 376h4v1h-4zM266 376h5v1h-5zM415 376h5v1h-5zM429 376h4v1h-4zM253 377h6v1h-6zM266 377h4v1h-4zM416 377h4v1h-4zM427 377h6v1h-6zM254 378h7v1h-7zM265 378h4v1h-4zM417 378h4v1h-4zM425 378h7v1h-7zM255 379h14v1h-14zM417 379h14v1h-14zM257 380h11v1h-11zM418 380h11v1h-11zM259 381h8v1h-8zM419 381h8v1h-8z"/><text x="545" y="75.9" text-anchor="end" textLength="271.6" lengthAdjust="spacing" font-family="Liberation Sans, sans-serif" font-size="16" fill="#000">"mark_points_start_data.txt" using 1:2</text><path fill="#00ff00" d="M574 63h1v1h-1zM570 64h9v1h-9zM569 65h11v1h-11zM568 66h13v1h-13zM567 67h15v1h-15zM566 68h17v1h-17zM566 69h17v1h-17zM566 70h17v1h-17zM566 71h17v1h-17zM565 72h19v1h-19zM566 73h17v1h-17zM566 74h17v1h-17zM566 75h17v1h-17zM566 76h17v1h-17zM567 77h15v1h-15zM568 78h13v1h-13zM569 79h11v1h-11zM570 80h9v1h-9zM574 81h1v1h-1z"/><path fill="#00ff00" d="M127 324h1v1h-1zM123 325h9v1h-9zM122 326h11v1h-11zM121 327h13v1h-13zM120 328h15v1h-15zM119 329h17v1h-17zM119 330h17v1h-17zM119 331h17v1h-17zM119 332h17v1h-17zM118 333h19v1h-19zM119 334h17v1h-17zM119 335h17v1h-17zM119 336h17v1h-17zM119 337h17v1h-17zM120 338h15v1h-15zM121 339h13v1h-13zM122 340h11v1h-11zM123 341h9v1h-9zM127 342h1v1h-1z"/><text x="545" y="90.9" text-anchor="end" textLength="266.4" lengthAdjust="spacing" font-family="Liberation Sans, sans-serif" font-size="16" fill="#000">"mark_points_end_data.txt" using 1:2</text><path fill="#ff0000" d="M574 78h1v1h-1zM570 79h9v1h-9zM569 80h11v1h-11zM568 81h13v1h-13zM567 82h15v1h-15zM566 83h17v1h-17zM566 84h17v1h-17zM566 85h17v1h-17zM566 86h17v1h-17zM565 87h19v1h-19zM566 88h17v1h-17zM566 89h17v1h-17zM566 90h17v1h-17zM566 91h17v1h-17zM567 92h15v1h-15zM568 93h13v1h-13zM569 94h11v1h-11zM570 95h9v1h-9zM574 96h1v1h-1z"/><path fill="#ff0000" d="M558 324h1v1h-1zM554 325h9v1h-9zM553 326h11v1h-11zM552 327h13v1h-13zM551 328h15v1h-15zM550 329h17v1h-17zM550 330h17v1h-17zM550 331h17v1h-17zM550 332h17v1h-17zM549 333h19v1h-19zM550 334h17v1h-17zM550 335h17v1h-17zM550 336h17v1h-17zM550 337h17v1h-17zM551 338h15v1h-15zM552 339h13v1h-13zM553 340h11v1h-11zM554 341h9v1h-9zM558 342h1v1h-1z"/><path fill="#000" d="M73 45h540v1h-540zM73 431h540v1h-540zM73 45h1v387h-1zM612 45h1v387h-1z"/></svg>
</body></html>
